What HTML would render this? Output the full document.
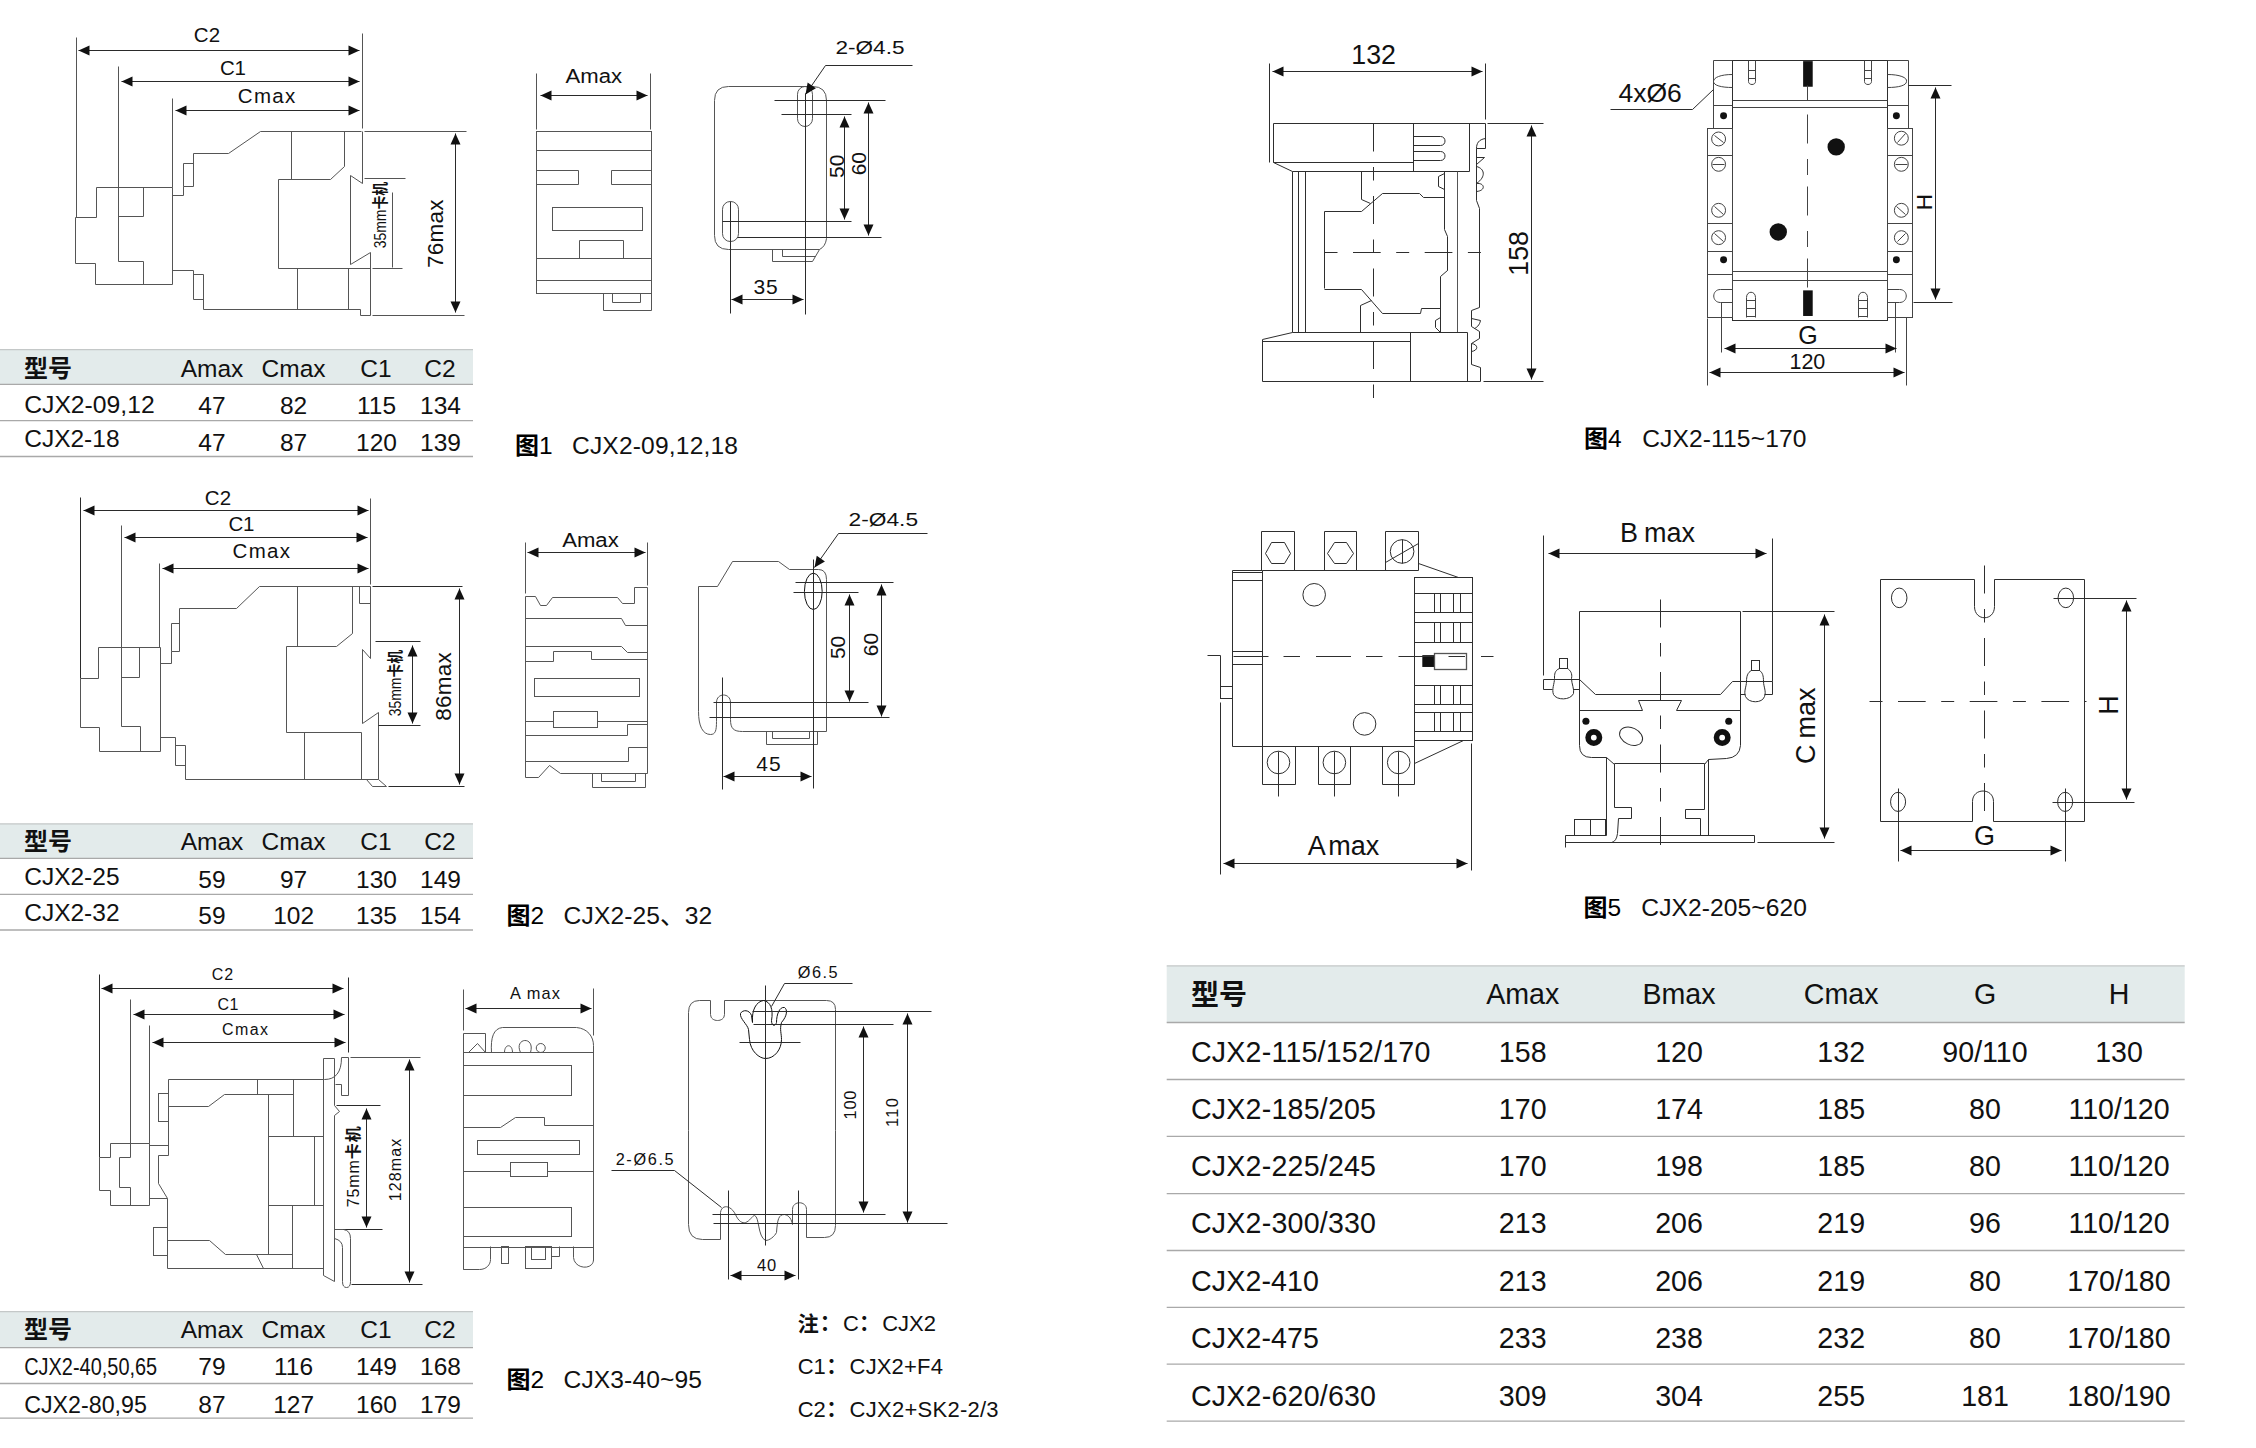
<!DOCTYPE html>
<html><head><meta charset="utf-8"><title>CJX2</title>
<style>
html,body{margin:0;padding:0;background:#fff;}
body{width:2256px;height:1448px;overflow:hidden;position:relative;font-family:"Liberation Sans","Noto Sans CJK SC",sans-serif;}
svg{position:absolute;left:0;top:0;display:block;}
svg text{font-family:"Liberation Sans","Noto Sans CJK SC",sans-serif;}
</style></head><body>
<svg width="2256" height="1448" viewBox="0 0 2256 1448">
<path d="M76.5 37.5 L76.5 217.5" stroke="#555" stroke-width="1.0" fill="none"/>
<path d="M362.5 33.5 L362.5 128.5" stroke="#555" stroke-width="1.0" fill="none"/>
<path d="M118.5 66.5 L118.5 261.5" stroke="#555" stroke-width="1.0" fill="none"/>
<path d="M172.5 98.5 L172.5 187.5" stroke="#555" stroke-width="1.0" fill="none"/>
<path d="M78.5 50.5 L359.5 50.5" stroke="#2a2a2a" stroke-width="1.0" fill="none"/>
<path d="M78.5 50.5 L89.5 55.5 L89.5 45.5 Z" fill="#111"/>
<path d="M359.5 50.5 L348.5 55.5 L348.5 45.5 Z" fill="#111"/>
<path d="M121.5 81.5 L359.5 81.5" stroke="#2a2a2a" stroke-width="1.0" fill="none"/>
<path d="M121.5 81.5 L132.5 86.5 L132.5 76.5 Z" fill="#111"/>
<path d="M359.5 81.5 L348.5 86.5 L348.5 76.5 Z" fill="#111"/>
<path d="M175.5 110.5 L359.5 110.5" stroke="#2a2a2a" stroke-width="1.0" fill="none"/>
<path d="M175.5 110.5 L186.5 115.5 L186.5 105.5 Z" fill="#111"/>
<path d="M359.5 110.5 L348.5 115.5 L348.5 105.5 Z" fill="#111"/>
<text x="207.0" y="41.5" font-size="20.5" text-anchor="middle" font-weight="normal" fill="#111" textLength="26.5" lengthAdjust="spacing">C2</text>
<text x="233.0" y="75.25" font-size="20.5" text-anchor="middle" font-weight="normal" fill="#111" textLength="26" lengthAdjust="spacing">C1</text>
<text x="266.5" y="102.75" font-size="20.5" text-anchor="middle" font-weight="normal" fill="#111" textLength="57.5" lengthAdjust="spacing">Cmax</text>
<path d="M466.5 131.5 L364.5 131.5" stroke="#555" stroke-width="1.0" fill="none"/>
<path d="M361.5 131.5 L260.5 131.5 L228.5 153.5 L193.5 153.5 L193.5 186.5 L183.5 186.5 L183.5 195.5 L172.5 195.5" stroke="#555" stroke-width="1.0" fill="none"/>
<path d="M193.5 163.5 L183.5 163.5 L183.5 186.5" stroke="#555" stroke-width="1.0" fill="none"/>
<path d="M172.5 187.5 L172.5 284.5" stroke="#555" stroke-width="1.0" fill="none"/>
<path d="M172.5 187.5 L96.5 187.5 L96.5 217.5 L75.5 217.5 L75.5 263.5 L95.5 263.5 L95.5 284.5 L172.5 284.5" stroke="#555" stroke-width="1.0" fill="none"/>
<path d="M143.5 187.5 L143.5 216.5 L118.5 216.5" stroke="#555" stroke-width="1.0" fill="none"/>
<path d="M118.5 261.5 L143.5 261.5 L143.5 284.5" stroke="#555" stroke-width="1.0" fill="none"/>
<path d="M172.5 270.5 L193.5 270.5 L193.5 299.5 L203.5 299.5" stroke="#555" stroke-width="1.0" fill="none"/>
<path d="M193.5 274.5 L203.5 274.5 L203.5 309.5 L360.5 309.5 L360.5 315.5 L370.5 315.5 L370.5 252.5 L350.5 264.5 L350.5 175.5 L362.5 183.5 L362.5 131.5" stroke="#555" stroke-width="1.0" fill="none"/>
<path d="M372.5 315.5 L464.5 315.5" stroke="#555" stroke-width="1.0" fill="none"/>
<path d="M291.5 131.5 L291.5 179.5" stroke="#555" stroke-width="1.0" fill="none"/>
<path d="M344.5 131.5 L344.5 166.5 L330.5 179.5 L278.5 179.5 L278.5 268.5 L370.5 268.5" stroke="#555" stroke-width="1.0" fill="none"/>
<path d="M372.5 268.5 L402.5 268.5" stroke="#555" stroke-width="1.0" fill="none"/>
<path d="M297.5 268.5 L297.5 309.5" stroke="#555" stroke-width="1.0" fill="none"/>
<path d="M348.5 268.5 L348.5 309.5" stroke="#555" stroke-width="1.0" fill="none"/>
<path d="M364.5 178.5 L405.5 178.5" stroke="#555" stroke-width="1.0" fill="none"/>
<path d="M392.5 192.5 L392.5 267.5" stroke="#555" stroke-width="1.0" fill="none"/>
<text x="385.75" y="215.0" font-size="16" text-anchor="middle" font-weight="normal" fill="#111" textLength="66.5" lengthAdjust="spacingAndGlyphs" transform="rotate(-90 385.75 215.0)">35mm<tspan font-weight="bold">卡机</tspan></text>
<text x="443.0" y="233.75" font-size="22.5" text-anchor="middle" font-weight="normal" fill="#111" textLength="68.5" lengthAdjust="spacing" transform="rotate(-90 443.0 233.75)">76max</text>
<path d="M455.5 133.5 L455.5 312.5" stroke="#2a2a2a" stroke-width="1.0" fill="none"/>
<path d="M455.5 133.5 L450.5 144.5 L460.5 144.5 Z" fill="#111"/>
<path d="M455.5 312.5 L450.5 301.5 L460.5 301.5 Z" fill="#111"/>
<path d="M536.5 73.5 L536.5 129.5" stroke="#555" stroke-width="1.0" fill="none"/>
<path d="M650.5 73.5 L650.5 129.5" stroke="#555" stroke-width="1.0" fill="none"/>
<path d="M540.5 95.5 L647.5 95.5" stroke="#2a2a2a" stroke-width="1.0" fill="none"/>
<path d="M540.5 95.5 L551.5 100.5 L551.5 90.5 Z" fill="#111"/>
<path d="M647.5 95.5 L636.5 100.5 L636.5 90.5 Z" fill="#111"/>
<text x="593.79" y="82.75" font-size="20" text-anchor="middle" font-weight="normal" fill="#111" textLength="56.5" lengthAdjust="spacingAndGlyphs">Amax</text>
<rect x="536.5" y="131.5" width="115.0" height="162.0" stroke="#555" stroke-width="1.0" fill="none"/>
<path d="M536.5 150.5 L651.5 150.5" stroke="#555" stroke-width="1.0" fill="none"/>
<path d="M536.5 258.5 L651.5 258.5" stroke="#555" stroke-width="1.0" fill="none"/>
<path d="M536.5 280.5 L651.5 280.5" stroke="#555" stroke-width="1.0" fill="none"/>
<path d="M536.5 170.5 L578.5 170.5 L578.5 184.5 L536.5 184.5" stroke="#555" stroke-width="1.0" fill="none"/>
<path d="M651.5 170.5 L611.5 170.5 L611.5 184.5 L651.5 184.5" stroke="#555" stroke-width="1.0" fill="none"/>
<rect x="552.5" y="207.5" width="90.0" height="23.0" stroke="#555" stroke-width="1.0" fill="none"/>
<path d="M579.5 258.5 L579.5 240.5 L623.5 240.5 L623.5 258.5" stroke="#555" stroke-width="1.0" fill="none"/>
<path d="M603.5 293.5 L603.5 310.5 L651.5 310.5 L651.5 293.5" stroke="#555" stroke-width="1.0" fill="none"/>
<path d="M612.5 293.5 L612.5 302.5 L640.5 302.5 L640.5 293.5" stroke="#555" stroke-width="1.0" fill="none"/>
<path d="M 728.5 86.5 L 812.5 86.5 Q 826.5 86.5 826.5 100.5 L 826.5 238.5 Q 825.5 246.5 819.5 249.5 L 728.5 249.5 Q 714.5 249.5 714.5 235.5 L 714.5 100.5 Q 714.5 86.5 728.5 86.5 Z" stroke="#555" stroke-width="1.0" fill="none"/>
<path d="M819.5 249.5 L812.5 261.5 L772.5 261.5 L772.5 249.5" stroke="#555" stroke-width="1.0" fill="none"/>
<path d="M782.5 249.5 L782.5 256.5 L815.5 256.5" stroke="#555" stroke-width="1.0" fill="none"/>
<rect x="797.5" y="86.5" width="15.0" height="40.0" rx="7.76" stroke="#555" stroke-width="1.0" fill="none"/>
<rect x="722.5" y="201.5" width="16.0" height="40.0" rx="7.76" stroke="#555" stroke-width="1.0" fill="none"/>
<path d="M805.5 93.5 L805.5 314.5" stroke="#2b2b2b" stroke-width="1.0" fill="none"/>
<path d="M730.5 201.5 L730.5 313.5" stroke="#2b2b2b" stroke-width="1.0" fill="none"/>
<path d="M774.5 100.5 L885.5 100.5" stroke="#2b2b2b" stroke-width="1.0" fill="none"/>
<path d="M781.5 114.5 L851.5 114.5" stroke="#2b2b2b" stroke-width="1.0" fill="none"/>
<path d="M722.5 221.5 L851.5 221.5" stroke="#2b2b2b" stroke-width="1.0" fill="none"/>
<path d="M737.5 237.5 L881.5 237.5" stroke="#2b2b2b" stroke-width="1.0" fill="none"/>
<path d="M844.5 116.5 L844.5 219.5" stroke="#2a2a2a" stroke-width="1.0" fill="none"/>
<path d="M844.5 116.5 L839.5 127.5 L849.5 127.5 Z" fill="#111"/>
<path d="M844.5 219.5 L839.5 208.5 L849.5 208.5 Z" fill="#111"/>
<path d="M868.5 102.5 L868.5 235.5" stroke="#2a2a2a" stroke-width="1.0" fill="none"/>
<path d="M868.5 102.5 L863.5 113.5 L873.5 113.5 Z" fill="#111"/>
<path d="M868.5 235.5 L863.5 224.5 L873.5 224.5 Z" fill="#111"/>
<text x="844.12" y="166.34" font-size="21" text-anchor="middle" font-weight="normal" fill="#111" transform="rotate(-90 844.12 166.34)">50</text>
<text x="865.85" y="163.68" font-size="21" text-anchor="middle" font-weight="normal" fill="#111" transform="rotate(-90 865.85 163.68)">60</text>
<path d="M731.5 299.5 L803.5 299.5" stroke="#2a2a2a" stroke-width="1.0" fill="none"/>
<path d="M731.5 299.5 L742.5 304.5 L742.5 294.5 Z" fill="#111"/>
<path d="M803.5 299.5 L792.5 304.5 L792.5 294.5 Z" fill="#111"/>
<text x="766.08" y="293.84" font-size="21" text-anchor="middle" font-weight="normal" fill="#111" letter-spacing="1">35</text>
<path d="M912.5 65.5 L825.5 65.5" stroke="#2b2b2b" stroke-width="1.0" fill="none"/>
<path d="M825.5 65.5 L805.5 94.5" stroke="#2a2a2a" stroke-width="1.0" fill="none"/>
<path d="M805.5 94.5 L807.63 82.61 L815.86 88.28 Z" fill="#111"/>
<text x="835.48" y="53.7" font-size="19" text-anchor="start" font-weight="normal" fill="#111" textLength="69" lengthAdjust="spacingAndGlyphs">2-Ø4.5</text>
<rect x="0" y="349.7" width="473" height="34.60000000000002" fill="#e3ebeb"/>
<path d="M0 349.7 H473" stroke="#c4c8c8" stroke-width="1.2"/>
<path d="M0 384.3 H473" stroke="#a9a9a9" stroke-width="1.3"/>
<path d="M0 420.6 H473" stroke="#a9a9a9" stroke-width="1.3"/>
<path d="M0 456.5 H473" stroke="#a9a9a9" stroke-width="1.3"/>
<text x="24.0" y="376.6" font-size="24" text-anchor="start" font-weight="bold" fill="#111">型号</text>
<text x="212.0" y="376.6" font-size="24.5" text-anchor="middle" font-weight="normal" fill="#111">Amax</text>
<text x="293.6" y="376.6" font-size="24.5" text-anchor="middle" font-weight="normal" fill="#111">Cmax</text>
<text x="376.0" y="376.6" font-size="24.5" text-anchor="middle" font-weight="normal" fill="#111">C1</text>
<text x="440.0" y="376.6" font-size="24.5" text-anchor="middle" font-weight="normal" fill="#111">C2</text>
<text x="24.2" y="412.6" font-size="24.5" text-anchor="start" font-weight="normal" fill="#111" textLength="130.5" lengthAdjust="spacingAndGlyphs">CJX2-09,12</text>
<text x="212.0" y="413.6" font-size="24.5" text-anchor="middle" font-weight="normal" fill="#111">47</text>
<text x="293.6" y="413.6" font-size="24.5" text-anchor="middle" font-weight="normal" fill="#111">82</text>
<text x="376.5" y="413.6" font-size="24.5" text-anchor="middle" font-weight="normal" fill="#111">115</text>
<text x="440.5" y="413.6" font-size="24.5" text-anchor="middle" font-weight="normal" fill="#111">134</text>
<text x="24.2" y="446.5" font-size="24.5" text-anchor="start" font-weight="normal" fill="#111">CJX2-18</text>
<text x="212.0" y="450.6" font-size="24.5" text-anchor="middle" font-weight="normal" fill="#111">47</text>
<text x="293.6" y="450.6" font-size="24.5" text-anchor="middle" font-weight="normal" fill="#111">87</text>
<text x="376.5" y="450.6" font-size="24.5" text-anchor="middle" font-weight="normal" fill="#111">120</text>
<text x="440.5" y="450.6" font-size="24.5" text-anchor="middle" font-weight="normal" fill="#111">139</text>
<rect x="0" y="823.8" width="473" height="34.60000000000002" fill="#e3ebeb"/>
<path d="M0 823.8 H473" stroke="#c4c8c8" stroke-width="1.2"/>
<path d="M0 858.4 H473" stroke="#a9a9a9" stroke-width="1.3"/>
<path d="M0 894.4 H473" stroke="#a9a9a9" stroke-width="1.3"/>
<path d="M0 930 H473" stroke="#a9a9a9" stroke-width="1.3"/>
<text x="24.0" y="850.0" font-size="24" text-anchor="start" font-weight="bold" fill="#111">型号</text>
<text x="212.0" y="850.0" font-size="24.5" text-anchor="middle" font-weight="normal" fill="#111">Amax</text>
<text x="293.6" y="850.0" font-size="24.5" text-anchor="middle" font-weight="normal" fill="#111">Cmax</text>
<text x="376.0" y="850.0" font-size="24.5" text-anchor="middle" font-weight="normal" fill="#111">C1</text>
<text x="440.0" y="850.0" font-size="24.5" text-anchor="middle" font-weight="normal" fill="#111">C2</text>
<text x="24.2" y="885.4" font-size="24.5" text-anchor="start" font-weight="normal" fill="#111">CJX2-25</text>
<text x="212.0" y="887.8" font-size="24.5" text-anchor="middle" font-weight="normal" fill="#111">59</text>
<text x="293.6" y="887.8" font-size="24.5" text-anchor="middle" font-weight="normal" fill="#111">97</text>
<text x="376.5" y="887.8" font-size="24.5" text-anchor="middle" font-weight="normal" fill="#111">130</text>
<text x="440.5" y="887.8" font-size="24.5" text-anchor="middle" font-weight="normal" fill="#111">149</text>
<text x="24.2" y="921.3" font-size="24.5" text-anchor="start" font-weight="normal" fill="#111">CJX2-32</text>
<text x="212.0" y="924.1" font-size="24.5" text-anchor="middle" font-weight="normal" fill="#111">59</text>
<text x="293.6" y="924.1" font-size="24.5" text-anchor="middle" font-weight="normal" fill="#111">102</text>
<text x="376.5" y="924.1" font-size="24.5" text-anchor="middle" font-weight="normal" fill="#111">135</text>
<text x="440.5" y="924.1" font-size="24.5" text-anchor="middle" font-weight="normal" fill="#111">154</text>
<rect x="0" y="1311.6" width="473" height="36.0" fill="#e3ebeb"/>
<path d="M0 1311.6 H473" stroke="#c4c8c8" stroke-width="1.2"/>
<path d="M0 1347.6 H473" stroke="#a9a9a9" stroke-width="1.3"/>
<path d="M0 1383.5 H473" stroke="#a9a9a9" stroke-width="1.3"/>
<path d="M0 1418.1 H473" stroke="#a9a9a9" stroke-width="1.3"/>
<text x="24.0" y="1338.4" font-size="24" text-anchor="start" font-weight="bold" fill="#111">型号</text>
<text x="212.0" y="1338.4" font-size="24.5" text-anchor="middle" font-weight="normal" fill="#111">Amax</text>
<text x="293.6" y="1338.4" font-size="24.5" text-anchor="middle" font-weight="normal" fill="#111">Cmax</text>
<text x="376.0" y="1338.4" font-size="24.5" text-anchor="middle" font-weight="normal" fill="#111">C1</text>
<text x="440.0" y="1338.4" font-size="24.5" text-anchor="middle" font-weight="normal" fill="#111">C2</text>
<text x="24.2" y="1375.2" font-size="24.5" text-anchor="start" font-weight="normal" fill="#111" textLength="133" lengthAdjust="spacingAndGlyphs">CJX2-40,50,65</text>
<text x="212.0" y="1375.2" font-size="24.5" text-anchor="middle" font-weight="normal" fill="#111">79</text>
<text x="293.6" y="1375.2" font-size="24.5" text-anchor="middle" font-weight="normal" fill="#111">116</text>
<text x="376.5" y="1375.2" font-size="24.5" text-anchor="middle" font-weight="normal" fill="#111">149</text>
<text x="440.5" y="1375.2" font-size="24.5" text-anchor="middle" font-weight="normal" fill="#111">168</text>
<text x="24.2" y="1412.6" font-size="24.5" text-anchor="start" font-weight="normal" fill="#111" textLength="122.7" lengthAdjust="spacingAndGlyphs">CJX2-80,95</text>
<text x="212.0" y="1413.3" font-size="24.5" text-anchor="middle" font-weight="normal" fill="#111">87</text>
<text x="293.6" y="1413.3" font-size="24.5" text-anchor="middle" font-weight="normal" fill="#111">127</text>
<text x="376.5" y="1413.3" font-size="24.5" text-anchor="middle" font-weight="normal" fill="#111">160</text>
<text x="440.5" y="1413.3" font-size="24.5" text-anchor="middle" font-weight="normal" fill="#111">179</text>
<text x="515" y="454" font-size="24.5"><tspan font-weight="bold" font-size="24">图</tspan>1</text>
<text x="572.0" y="454.0" font-size="24.6" text-anchor="start" font-weight="normal" fill="#111" textLength="166" lengthAdjust="spacing">CJX2-09,12,18</text>
<text x="506.6" y="924" font-size="24.5"><tspan font-weight="bold" font-size="24">图</tspan>2</text>
<text x="563.6" y="924.0" font-size="24.6" text-anchor="start" font-weight="normal" fill="#111" textLength="148.7" lengthAdjust="spacing">CJX2-25、32</text>
<text x="506.6" y="1388.4" font-size="24.5"><tspan font-weight="bold" font-size="24">图</tspan>2</text>
<text x="563.6" y="1388.4" font-size="24.6" text-anchor="start" font-weight="normal" fill="#111" textLength="138.3" lengthAdjust="spacing">CJX3-40~95</text>
<path d="M80.5 497.5 L80.5 678.5" stroke="#2b2b2b" stroke-width="1.0" fill="none"/>
<path d="M121.5 525.5 L121.5 726.5" stroke="#555" stroke-width="1.0" fill="none"/>
<path d="M159.5 563.5 L159.5 647.5" stroke="#555" stroke-width="1.0" fill="none"/>
<path d="M370.5 498.5 L370.5 584.5" stroke="#555" stroke-width="1.0" fill="none"/>
<path d="M83.5 510.5 L368.5 510.5" stroke="#2a2a2a" stroke-width="1.0" fill="none"/>
<path d="M83.5 510.5 L94.5 515.5 L94.5 505.5 Z" fill="#111"/>
<path d="M368.5 510.5 L357.5 515.5 L357.5 505.5 Z" fill="#111"/>
<path d="M124.5 537.5 L367.5 537.5" stroke="#2a2a2a" stroke-width="1.0" fill="none"/>
<path d="M124.5 537.5 L135.5 542.5 L135.5 532.5 Z" fill="#111"/>
<path d="M367.5 537.5 L356.5 542.5 L356.5 532.5 Z" fill="#111"/>
<path d="M162.5 568.5 L368.5 568.5" stroke="#2a2a2a" stroke-width="1.0" fill="none"/>
<path d="M162.5 568.5 L173.5 573.5 L173.5 563.5 Z" fill="#111"/>
<path d="M368.5 568.5 L357.5 573.5 L357.5 563.5 Z" fill="#111"/>
<text x="218.0" y="504.75" font-size="20.5" text-anchor="middle" font-weight="normal" fill="#111" textLength="26.5" lengthAdjust="spacing">C2</text>
<text x="241.5" y="531.0" font-size="20.5" text-anchor="middle" font-weight="normal" fill="#111" textLength="26" lengthAdjust="spacing">C1</text>
<text x="261.25" y="558.25" font-size="20.5" text-anchor="middle" font-weight="normal" fill="#111" textLength="57.5" lengthAdjust="spacing">Cmax</text>
<path d="M462.5 586.5 L372.5 586.5" stroke="#2b2b2b" stroke-width="1.0" fill="none"/>
<path d="M370.5 586.5 L259.5 586.5 L236.5 608.5 L179.5 608.5 L179.5 651.5 L171.5 651.5 L171.5 663.5 L160.5 663.5" stroke="#555" stroke-width="1.0" fill="none"/>
<path d="M179.5 623.5 L171.5 623.5 L171.5 651.5" stroke="#555" stroke-width="1.0" fill="none"/>
<path d="M160.5 647.5 L160.5 751.5" stroke="#555" stroke-width="1.0" fill="none"/>
<path d="M160.5 647.5 L98.5 647.5 L98.5 678.5 L80.5 678.5 L80.5 727.5 L99.5 727.5 L99.5 751.5 L160.5 751.5" stroke="#555" stroke-width="1.0" fill="none"/>
<path d="M139.5 647.5 L139.5 677.5 L121.5 677.5" stroke="#555" stroke-width="1.0" fill="none"/>
<path d="M121.5 726.5 L140.5 726.5 L140.5 751.5" stroke="#555" stroke-width="1.0" fill="none"/>
<path d="M160.5 737.5 L175.5 737.5 L175.5 765.5 L185.5 765.5" stroke="#555" stroke-width="1.0" fill="none"/>
<path d="M175.5 745.5 L185.5 745.5 L185.5 779.5 L378.5 779.5 L378.5 712.5 L362.5 723.5 L362.5 649.5 L370.5 658.5 L370.5 586.5" stroke="#555" stroke-width="1.0" fill="none"/>
<path d="M366.5 779.5 L372.5 786.5 L386.5 786.5 L378.5 779.5" stroke="#555" stroke-width="1.0" fill="none"/>
<path d="M388.5 786.5 L464.5 786.5" stroke="#2b2b2b" stroke-width="1.0" fill="none"/>
<path d="M297.5 586.5 L297.5 646.5" stroke="#555" stroke-width="1.0" fill="none"/>
<path d="M352.5 586.5 L352.5 633.5 L336.5 646.5 L286.5 646.5 L286.5 732.5 L361.5 732.5 L361.5 779.5" stroke="#555" stroke-width="1.0" fill="none"/>
<path d="M304.5 732.5 L304.5 779.5" stroke="#555" stroke-width="1.0" fill="none"/>
<path d="M359.5 586.5 L359.5 603.5 L370.5 603.5" stroke="#555" stroke-width="1.0" fill="none"/>
<path d="M378.5 725.5 L420.5 725.5" stroke="#2b2b2b" stroke-width="1.0" fill="none"/>
<path d="M375.5 641.5 L420.5 641.5" stroke="#2b2b2b" stroke-width="1.0" fill="none"/>
<path d="M412.5 645.5 L412.5 723.5" stroke="#2a2a2a" stroke-width="1.0" fill="none"/>
<path d="M412.5 645.5 L407.5 656.5 L417.5 656.5 Z" fill="#111"/>
<path d="M412.5 723.5 L407.5 712.5 L417.5 712.5 Z" fill="#111"/>
<text x="401.25" y="683.0" font-size="16" text-anchor="middle" font-weight="normal" fill="#111" textLength="66.5" lengthAdjust="spacingAndGlyphs" transform="rotate(-90 401.25 683.0)">35mm<tspan font-weight="bold">卡机</tspan></text>
<text x="451.25" y="686.5" font-size="22.5" text-anchor="middle" font-weight="normal" fill="#111" textLength="68.5" lengthAdjust="spacing" transform="rotate(-90 451.25 686.5)">86max</text>
<path d="M459.5 588.5 L459.5 784.5" stroke="#2a2a2a" stroke-width="1.0" fill="none"/>
<path d="M459.5 588.5 L454.5 599.5 L464.5 599.5 Z" fill="#111"/>
<path d="M459.5 784.5 L454.5 773.5 L464.5 773.5 Z" fill="#111"/>
<path d="M525.5 542.5 L525.5 593.5" stroke="#555" stroke-width="1.0" fill="none"/>
<path d="M647.5 542.5 L647.5 585.5" stroke="#555" stroke-width="1.0" fill="none"/>
<path d="M527.5 552.5 L645.5 552.5" stroke="#2a2a2a" stroke-width="1.0" fill="none"/>
<path d="M527.5 552.5 L538.5 557.5 L538.5 547.5 Z" fill="#111"/>
<path d="M645.5 552.5 L634.5 557.5 L634.5 547.5 Z" fill="#111"/>
<text x="590.47" y="546.76" font-size="20" text-anchor="middle" font-weight="normal" fill="#111" textLength="56.5" lengthAdjust="spacingAndGlyphs">Amax</text>
<path d="M525.5 596.5 L525.5 777.5" stroke="#555" stroke-width="1.0" fill="none"/>
<path d="M647.5 587.5 L647.5 773.5" stroke="#555" stroke-width="1.0" fill="none"/>
<path d="M525.5 596.5 L535.5 596.5 L540.5 605.5 L546.5 605.5 L552.5 597.5 L617.5 597.5 L622.5 603.5 L634.5 603.5 L634.5 587.5 L647.5 587.5" stroke="#555" stroke-width="1.0" fill="none"/>
<path d="M525.5 618.5 L621.5 618.5 L625.5 625.5 L647.5 625.5" stroke="#555" stroke-width="1.0" fill="none"/>
<path d="M525.5 646.5 L621.5 646.5 L627.5 652.5 L647.5 652.5" stroke="#555" stroke-width="1.0" fill="none"/>
<path d="M525.5 661.5 L553.5 661.5 L553.5 651.5 L591.5 651.5 L591.5 659.5 L647.5 659.5" stroke="#555" stroke-width="1.0" fill="none"/>
<rect x="534.5" y="678.5" width="105.0" height="18.0" stroke="#555" stroke-width="1.0" fill="none"/>
<rect x="553.5" y="711.5" width="44.0" height="16.0" stroke="#555" stroke-width="1.0" fill="none"/>
<path d="M525.5 721.5 L553.5 721.5" stroke="#555" stroke-width="1.0" fill="none"/>
<path d="M597.5 721.5 L647.5 721.5" stroke="#555" stroke-width="1.0" fill="none"/>
<path d="M525.5 735.5 L627.5 735.5 L627.5 724.5 L647.5 724.5" stroke="#555" stroke-width="1.0" fill="none"/>
<path d="M525.5 761.5 L628.5 761.5 L628.5 747.5 L647.5 747.5" stroke="#555" stroke-width="1.0" fill="none"/>
<path d="M525.5 777.5 L538.5 777.5 L549.5 765.5 L560.5 773.5 L647.5 773.5" stroke="#555" stroke-width="1.0" fill="none"/>
<path d="M592.5 773.5 L592.5 787.5 L645.5 787.5 L645.5 773.5" stroke="#555" stroke-width="1.0" fill="none"/>
<path d="M601.5 773.5 L601.5 781.5 L635.5 781.5 L635.5 773.5" stroke="#555" stroke-width="1.0" fill="none"/>
<path d="M 698.5 711.5 L 698.5 586.5 L 717.5 586.5 L 732.5 561.5 L 778.5 561.5 L 789.5 569.5 L 818.5 569.5 Q 826.5 569.5 826.5 579.5 L 826.5 731.5 L 742.5 731.5 C 733.5 731.5 730.5 728.5 730.5 719.5 L 730.5 702.5 C 730.5 692.5 716.5 692.5 716.5 702.5 L 716.5 721.5 C 716.5 730.5 715.5 734.5 710.5 734.5 C 702.5 734.5 698.5 725.5 698.5 711.5" stroke="#555" stroke-width="1.0" fill="none"/>
<path d="M766.5 731.5 L766.5 744.5 L817.5 744.5 L817.5 731.5" stroke="#555" stroke-width="1.0" fill="none"/>
<path d="M772.5 731.5 L772.5 738.5 L809.5 738.5 L809.5 731.5" stroke="#555" stroke-width="1.0" fill="none"/>
<ellipse cx="813.3" cy="591.33" rx="8.87" ry="18.18" stroke="#111" stroke-width="1.0" fill="none"/>
<path d="M813.5 559.5 L813.5 788.5" stroke="#2b2b2b" stroke-width="1.0" fill="none"/>
<path d="M722.5 677.5 L722.5 789.5" stroke="#2b2b2b" stroke-width="1.0" fill="none"/>
<path d="M795.5 582.5 L893.5 582.5" stroke="#2b2b2b" stroke-width="1.0" fill="none"/>
<path d="M793.5 592.5 L858.5 592.5" stroke="#2b2b2b" stroke-width="1.0" fill="none"/>
<path d="M713.5 702.5 L868.5 702.5" stroke="#2b2b2b" stroke-width="1.0" fill="none"/>
<path d="M709.5 717.5 L889.5 717.5" stroke="#2b2b2b" stroke-width="1.0" fill="none"/>
<path d="M849.5 594.5 L849.5 701.5" stroke="#2a2a2a" stroke-width="1.0" fill="none"/>
<path d="M849.5 594.5 L844.5 605.5 L854.5 605.5 Z" fill="#111"/>
<path d="M849.5 701.5 L844.5 690.5 L854.5 690.5 Z" fill="#111"/>
<path d="M881.5 584.5 L881.5 716.5" stroke="#2a2a2a" stroke-width="1.0" fill="none"/>
<path d="M881.5 584.5 L876.5 595.5 L886.5 595.5 Z" fill="#111"/>
<path d="M881.5 716.5 L876.5 705.5 L886.5 705.5 Z" fill="#111"/>
<text x="845.23" y="647.43" font-size="21" text-anchor="middle" font-weight="normal" fill="#111" transform="rotate(-90 845.23 647.43)">50</text>
<text x="878.05" y="644.55" font-size="21" text-anchor="middle" font-weight="normal" fill="#111" transform="rotate(-90 878.05 644.55)">60</text>
<path d="M723.5 776.5 L811.5 776.5" stroke="#2a2a2a" stroke-width="1.0" fill="none"/>
<path d="M723.5 776.5 L734.5 781.5 L734.5 771.5 Z" fill="#111"/>
<path d="M811.5 776.5 L800.5 781.5 L800.5 771.5 Z" fill="#111"/>
<text x="768.96" y="771.15" font-size="21" text-anchor="middle" font-weight="normal" fill="#111" letter-spacing="1">45</text>
<path d="M927.5 533.5 L838.5 533.5" stroke="#2b2b2b" stroke-width="1.0" fill="none"/>
<path d="M838.5 533.5 L814.5 567.5" stroke="#2a2a2a" stroke-width="1.0" fill="none"/>
<path d="M814.5 567.5 L816.76 555.63 L824.93 561.4 Z" fill="#111"/>
<text x="848.56" y="526.14" font-size="19" text-anchor="start" font-weight="normal" fill="#111" textLength="69.5" lengthAdjust="spacingAndGlyphs">2-Ø4.5</text>
<path d="M99.5 974.5 L99.5 1157.5" stroke="#2b2b2b" stroke-width="1.0" fill="none"/>
<path d="M130.5 999.5 L130.5 1157.5" stroke="#555" stroke-width="1.0" fill="none"/>
<path d="M149.5 1025.5 L149.5 1143.5" stroke="#555" stroke-width="1.0" fill="none"/>
<path d="M348.5 977.5 L348.5 1052.5" stroke="#2b2b2b" stroke-width="1.0" fill="none"/>
<path d="M101.5 988.5 L343.5 988.5" stroke="#2a2a2a" stroke-width="1.0" fill="none"/>
<path d="M101.5 988.5 L112.5 993.5 L112.5 983.5 Z" fill="#111"/>
<path d="M343.5 988.5 L332.5 993.5 L332.5 983.5 Z" fill="#111"/>
<path d="M133.5 1014.5 L344.5 1014.5" stroke="#2a2a2a" stroke-width="1.0" fill="none"/>
<path d="M133.5 1014.5 L144.5 1019.5 L144.5 1009.5 Z" fill="#111"/>
<path d="M344.5 1014.5 L333.5 1019.5 L333.5 1009.5 Z" fill="#111"/>
<path d="M152.5 1042.5 L345.5 1042.5" stroke="#2a2a2a" stroke-width="1.0" fill="none"/>
<path d="M152.5 1042.5 L163.5 1047.5 L163.5 1037.5 Z" fill="#111"/>
<path d="M345.5 1042.5 L334.5 1047.5 L334.5 1037.5 Z" fill="#111"/>
<text x="222.5" y="980.0" font-size="16" text-anchor="middle" font-weight="normal" fill="#111" textLength="21.5" lengthAdjust="spacing">C2</text>
<text x="228.0" y="1010.0" font-size="16" text-anchor="middle" font-weight="normal" fill="#111" textLength="21" lengthAdjust="spacing">C1</text>
<text x="245.0" y="1035.0" font-size="16" text-anchor="middle" font-weight="normal" fill="#111" textLength="46" lengthAdjust="spacing">Cmax</text>
<path d="M99.5 1157.5 L110.5 1157.5 L110.5 1143.5 L149.5 1143.5 L149.5 1205.5 L110.5 1205.5 L110.5 1190.5 L99.5 1190.5 L99.5 1157.5" stroke="#555" stroke-width="1.0" fill="none"/>
<path d="M130.5 1157.5 L119.5 1157.5 L119.5 1187.5 L130.5 1187.5 L130.5 1205.5" stroke="#555" stroke-width="1.0" fill="none"/>
<path d="M149.5 1145.5 L168.5 1145.5" stroke="#555" stroke-width="1.0" fill="none"/>
<path d="M149.5 1198.5 L167.5 1198.5" stroke="#555" stroke-width="1.0" fill="none"/>
<path d="M324.5 1079.5 L168.5 1079.5 L168.5 1155.5 L158.5 1155.5 L158.5 1183.5 L167.5 1198.5 L167.5 1268.5 L323.5 1268.5" stroke="#555" stroke-width="1.0" fill="none"/>
<rect x="158.5" y="1093.5" width="10.0" height="28.0" stroke="#555" stroke-width="1.0" fill="none"/>
<rect x="153.5" y="1227.5" width="14.0" height="28.0" stroke="#555" stroke-width="1.0" fill="none"/>
<path d="M168.5 1106.5 L208.5 1106.5 L224.5 1094.5 L293.5 1094.5" stroke="#555" stroke-width="1.0" fill="none"/>
<path d="M257.5 1079.5 L257.5 1094.5" stroke="#555" stroke-width="1.0" fill="none"/>
<path d="M293.5 1079.5 L293.5 1136.5" stroke="#555" stroke-width="1.0" fill="none"/>
<path d="M268.5 1094.5 L268.5 1254.5" stroke="#555" stroke-width="1.0" fill="none"/>
<path d="M268.5 1136.5 L323.5 1136.5" stroke="#555" stroke-width="1.0" fill="none"/>
<path d="M314.5 1136.5 L314.5 1205.5" stroke="#555" stroke-width="1.0" fill="none"/>
<path d="M268.5 1205.5 L323.5 1205.5" stroke="#555" stroke-width="1.0" fill="none"/>
<path d="M292.5 1205.5 L292.5 1268.5" stroke="#555" stroke-width="1.0" fill="none"/>
<path d="M167.5 1240.5 L209.5 1240.5 L225.5 1254.5 L292.5 1254.5" stroke="#555" stroke-width="1.0" fill="none"/>
<path d="M256.5 1254.5 L263.5 1268.5" stroke="#555" stroke-width="1.0" fill="none"/>
<path d="M334.5 1229.5 L334.5 1115.5 L339.5 1111.5 L334.5 1105.5 L334.5 1058.5 L323.5 1058.5 L323.5 1275.5 L334.5 1281.5 L334.5 1229.5" stroke="#555" stroke-width="1.0" fill="none"/>
<path d="M 324.5 1079.5 C 335.5 1079.5 341.5 1072.5 341.5 1057.5 L 348.5 1057.5 L 348.5 1095.5 L 341.5 1095.5 L 341.5 1084.5 L 335.5 1084.5" stroke="#555" stroke-width="1.0" fill="none"/>
<path d="M350.5 1057.5 L420.5 1057.5" stroke="#555" stroke-width="1.0" fill="none"/>
<path d="M336.5 1105.5 L380.5 1105.5" stroke="#2b2b2b" stroke-width="1.0" fill="none"/>
<path d="M334.5 1229.5 L382.5 1229.5" stroke="#2b2b2b" stroke-width="1.0" fill="none"/>
<path d="M 334.5 1229.5 L 343.5 1229.5 Q 350.5 1230.5 350.5 1238.5 L 350.5 1281.5 Q 350.5 1287.5 346.5 1287.5 Q 342.5 1287.5 342.5 1281.5 L 342.5 1247.5 Q 342.5 1240.5 334.5 1238.5" stroke="#555" stroke-width="1.0" fill="none"/>
<path d="M351.5 1284.5 L422.5 1284.5" stroke="#2b2b2b" stroke-width="1.0" fill="none"/>
<path d="M366.5 1108.5 L366.5 1227.5" stroke="#2a2a2a" stroke-width="1.0" fill="none"/>
<path d="M366.5 1108.5 L361.5 1119.5 L371.5 1119.5 Z" fill="#111"/>
<path d="M366.5 1227.5 L361.5 1216.5 L371.5 1216.5 Z" fill="#111"/>
<text x="358.75" y="1166.75" font-size="16" text-anchor="middle" font-weight="normal" fill="#111" textLength="81" lengthAdjust="spacing" transform="rotate(-90 358.75 1166.75)">75mm<tspan font-weight="bold">卡机</tspan></text>
<text x="401.25" y="1170.0" font-size="16" text-anchor="middle" font-weight="normal" fill="#111" textLength="62.5" lengthAdjust="spacing" transform="rotate(-90 401.25 1170.0)">128max</text>
<path d="M409.5 1059.5 L409.5 1282.5" stroke="#2a2a2a" stroke-width="1.0" fill="none"/>
<path d="M409.5 1059.5 L404.5 1070.5 L414.5 1070.5 Z" fill="#111"/>
<path d="M409.5 1282.5 L404.5 1271.5 L414.5 1271.5 Z" fill="#111"/>
<path d="M463.5 989.5 L463.5 1030.5" stroke="#555" stroke-width="1.0" fill="none"/>
<path d="M593.5 988.5 L593.5 1035.5" stroke="#555" stroke-width="1.0" fill="none"/>
<path d="M465.5 1008.5 L591.5 1008.5" stroke="#2a2a2a" stroke-width="1.0" fill="none"/>
<path d="M465.5 1008.5 L476.5 1013.5 L476.5 1003.5 Z" fill="#111"/>
<path d="M591.5 1008.5 L580.5 1013.5 L580.5 1003.5 Z" fill="#111"/>
<text x="535.0" y="998.75" font-size="16.4" text-anchor="middle" font-weight="normal" fill="#111" textLength="50" lengthAdjust="spacing">A max</text>
<path d="M463.5 1033.5 L463.5 1269.5" stroke="#555" stroke-width="1.0" fill="none"/>
<path d="M593.5 1045.5 L593.5 1260.5" stroke="#555" stroke-width="1.0" fill="none"/>
<path d="M463.5 1033.5 L485.5 1033.5 L485.5 1052.5" stroke="#555" stroke-width="1.0" fill="none"/>
<path d="M468.5 1052.5 L477.5 1043.5 L485.5 1052.5" stroke="#555" stroke-width="1.0" fill="none"/>
<path d="M 491.5 1052.5 C 490.5 1037.5 493.5 1028.5 502.5 1027.5 L 576.5 1027.5 C 587.5 1028.5 593.5 1036.5 593.5 1045.5" stroke="#555" stroke-width="1.0" fill="none"/>
<path d="M 504.5 1052.5 C 504.5 1043.5 512.5 1043.5 512.5 1052.5" stroke="#555" stroke-width="1.0" fill="none"/>
<path d="M 520.5 1052.5 C 513.5 1037.5 535.5 1035.5 530.5 1052.5" stroke="#555" stroke-width="1.0" fill="none"/>
<circle cx="540.75" cy="1048.0" r="4.5" stroke="#555" stroke-width="1.0" fill="none"/>
<path d="M463.5 1052.5 L593.5 1052.5" stroke="#555" stroke-width="1.0" fill="none"/>
<rect x="463.5" y="1065.5" width="108.0" height="30.0" stroke="#555" stroke-width="1.0" fill="none"/>
<path d="M463.5 1127.5 L500.5 1127.5 L515.5 1117.5 L544.5 1117.5 L544.5 1125.5 L593.5 1125.5" stroke="#555" stroke-width="1.0" fill="none"/>
<rect x="477.5" y="1140.5" width="102.0" height="14.0" stroke="#555" stroke-width="1.0" fill="none"/>
<rect x="510.5" y="1162.5" width="37.0" height="14.0" stroke="#555" stroke-width="1.0" fill="none"/>
<path d="M463.5 1171.5 L510.5 1171.5" stroke="#555" stroke-width="1.0" fill="none"/>
<path d="M547.5 1171.5 L593.5 1171.5" stroke="#555" stroke-width="1.0" fill="none"/>
<rect x="463.5" y="1207.5" width="108.0" height="29.0" stroke="#555" stroke-width="1.0" fill="none"/>
<path d="M463.5 1247.5 L593.5 1247.5" stroke="#555" stroke-width="1.0" fill="none"/>
<path d="M 463.5 1246.5 L 463.5 1269.5 L 479.5 1269.5 C 486.5 1269.5 490.5 1264.5 490.5 1259.5 L 490.5 1246.5" stroke="#555" stroke-width="1.0" fill="none"/>
<rect x="501.5" y="1246.5" width="7.0" height="17.0" stroke="#555" stroke-width="1.0" fill="none"/>
<rect x="525.5" y="1246.5" width="26.0" height="22.0" stroke="#555" stroke-width="1.0" fill="none"/>
<rect x="531.5" y="1246.5" width="14.0" height="13.0" stroke="#555" stroke-width="1.0" fill="none"/>
<path d="M551.5 1256.5 L559.5 1256.5 L559.5 1246.5" stroke="#555" stroke-width="1.0" fill="none"/>
<path d="M 573.5 1246.5 L 573.5 1257.5 C 574.5 1269.5 593.5 1270.5 593.5 1259.5 L 593.5 1246.5" stroke="#555" stroke-width="1.0" fill="none"/>
<path d="M 688.5 1130.5 L 688.5 1012.5 Q 688.5 1000.5 699.5 1000.5 L 710.5 1000.5 L 710.5 1014.5 C 710.5 1022.5 724.5 1022.5 724.5 1014.5 L 724.5 1000.5 L 826.5 1000.5 Q 835.5 1000.5 835.5 1009.5 L 835.5 1130.5" stroke="#555" stroke-width="1.0" fill="none"/>
<path d="M 751.5 1015.5 C 749.5 1009.5 742.5 1009.5 740.5 1013.5 C 739.5 1018.5 747.5 1024.5 748.5 1029.5 L 749.5 1039.5 C 750.5 1051.5 759.5 1058.5 765.5 1058.5 C 774.5 1058.5 781.5 1049.5 781.5 1039.5 C 781.5 1033.5 779.5 1029.5 781.5 1022.5 C 787.5 1015.5 787.5 1009.5 784.5 1007.5 C 779.5 1006.5 776.5 1014.5 776.5 1022.5 C 775.5 1026.5 771.5 1026.5 771.5 1020.5 C 773.5 1009.5 770.5 1001.5 763.5 1000.5 C 756.5 1001.5 751.5 1009.5 752.5 1022.5 Z" stroke="#111" stroke-width="1.0" fill="none"/>
<path d="M852.5 983.5 L784.5 983.5 L771.5 1006.5" stroke="#2b2b2b" stroke-width="1.0" fill="none"/>
<text x="797.66" y="977.62" font-size="16.3" text-anchor="start" font-weight="normal" fill="#111" textLength="40" lengthAdjust="spacing">Ø6.5</text>
<path d="M 688.5 1130.5 L 688.5 1224.5 Q 688.5 1239.5 702.5 1239.5 L 720.5 1239.5 L 720.5 1212.5 C 721.5 1204.5 730.5 1204.5 735.5 1214.5 C 738.5 1221.5 742.5 1223.5 745.5 1222.5 C 749.5 1221.5 752.5 1215.5 754.5 1215.5 C 759.5 1216.5 757.5 1236.5 765.5 1240.5 C 769.5 1240.5 774.5 1236.5 776.5 1232.5 C 777.5 1219.5 778.5 1214.5 784.5 1214.5 C 789.5 1215.5 791.5 1219.5 792.5 1224.5 L 792.5 1209.5 C 792.5 1200.5 806.5 1200.5 806.5 1209.5 L 806.5 1237.5 L 824.5 1237.5 Q 835.5 1237.5 835.5 1225.5 L 835.5 1130.5" stroke="#555" stroke-width="1.0" fill="none"/>
<path d="M728.5 1190.5 L728.5 1279.5" stroke="#2b2b2b" stroke-width="1.0" fill="none"/>
<path d="M798.5 1190.5 L798.5 1279.5" stroke="#2b2b2b" stroke-width="1.0" fill="none"/>
<path d="M611.5 1170.5 L674.5 1170.5 L721.5 1207.5" stroke="#2b2b2b" stroke-width="1.0" fill="none"/>
<text x="615.64" y="1164.79" font-size="16.3" text-anchor="start" font-weight="normal" fill="#111" textLength="58" lengthAdjust="spacing">2-Ø6.5</text>
<path d="M730.5 1275.5 L795.5 1275.5" stroke="#2a2a2a" stroke-width="1.0" fill="none"/>
<path d="M730.5 1275.5 L741.5 1280.5 L741.5 1270.5 Z" fill="#111"/>
<path d="M795.5 1275.5 L784.5 1280.5 L784.5 1270.5 Z" fill="#111"/>
<text x="767.07" y="1270.74" font-size="16.5" text-anchor="middle" font-weight="normal" fill="#111" letter-spacing="1">40</text>
<path d="M765.5 985.5 L765.5 1245.5" stroke="#2b2b2b" stroke-width="1.0" fill="none"/>
<path d="M752.5 1011.5 L931.5 1011.5" stroke="#2b2b2b" stroke-width="1.0" fill="none"/>
<path d="M753.5 1024.5 L893.5 1024.5" stroke="#2b2b2b" stroke-width="1.0" fill="none"/>
<path d="M739.5 1042.5 L800.5 1042.5" stroke="#2b2b2b" stroke-width="1.0" fill="none"/>
<path d="M712.5 1214.5 L885.5 1214.5" stroke="#2b2b2b" stroke-width="1.0" fill="none"/>
<path d="M713.5 1223.5 L947.5 1223.5" stroke="#2b2b2b" stroke-width="1.0" fill="none"/>
<path d="M863.5 1026.5 L863.5 1212.5" stroke="#2a2a2a" stroke-width="1.0" fill="none"/>
<path d="M863.5 1026.5 L858.5 1037.5 L868.5 1037.5 Z" fill="#111"/>
<path d="M863.5 1212.5 L858.5 1201.5 L868.5 1201.5 Z" fill="#111"/>
<path d="M907.5 1013.5 L907.5 1222.5" stroke="#2a2a2a" stroke-width="1.0" fill="none"/>
<path d="M907.5 1013.5 L902.5 1024.5 L912.5 1024.5 Z" fill="#111"/>
<path d="M907.5 1222.5 L902.5 1211.5 L912.5 1211.5 Z" fill="#111"/>
<text x="856.25" y="1105.0" font-size="16.5" text-anchor="middle" font-weight="normal" fill="#111" textLength="29" lengthAdjust="spacing" transform="rotate(-90 856.25 1105.0)">100</text>
<text x="898.0" y="1112.5" font-size="16.5" text-anchor="middle" font-weight="normal" fill="#111" textLength="29" lengthAdjust="spacing" transform="rotate(-90 898.0 1112.5)">110</text>
<text x="797.73" y="1331.02" font-size="21" text-anchor="start" font-weight="bold" fill="#111">注</text>
<text x="824.88" y="1331.02" font-size="21" text-anchor="middle" font-weight="bold" fill="#111" style='font-family:"Liberation Sans","Noto Sans CJK JP",sans-serif'>：</text>
<text x="842.94" y="1331.02" font-size="22" text-anchor="start" font-weight="normal" fill="#111">C</text>
<text x="864.22" y="1331.02" font-size="21" text-anchor="middle" font-weight="bold" fill="#111" style='font-family:"Liberation Sans","Noto Sans CJK JP",sans-serif'>：</text>
<text x="882.17" y="1331.02" font-size="22" text-anchor="start" font-weight="normal" fill="#111" textLength="53.9" lengthAdjust="spacing">CJX2</text>
<text x="797.73" y="1373.68" font-size="22" text-anchor="start" font-weight="normal" fill="#111">C1</text>
<text x="831.53" y="1373.68" font-size="21" text-anchor="middle" font-weight="bold" fill="#111" style='font-family:"Liberation Sans","Noto Sans CJK JP",sans-serif'>：</text>
<text x="849.59" y="1373.68" font-size="22" text-anchor="start" font-weight="normal" fill="#111" textLength="93.3" lengthAdjust="spacing">CJX2+F4</text>
<text x="797.73" y="1417.45" font-size="22" text-anchor="start" font-weight="normal" fill="#111">C2</text>
<text x="831.53" y="1417.45" font-size="21" text-anchor="middle" font-weight="bold" fill="#111" style='font-family:"Liberation Sans","Noto Sans CJK JP",sans-serif'>：</text>
<text x="849.59" y="1417.45" font-size="22" text-anchor="start" font-weight="normal" fill="#111" textLength="149" lengthAdjust="spacing">CJX2+SK2-2/3</text>
<path d="M1485.5 123.5 L1273.5 123.5 L1273.5 162.5 L1292.5 171.5 L1469.5 171.5 L1469.5 123.5" stroke="#2e2e2e" stroke-width="1.0" fill="none"/>
<path d="M1273.5 162.5 L1413.5 162.5" stroke="#2e2e2e" stroke-width="1.0" fill="none"/>
<path d="M1413.5 123.5 L1413.5 171.5" stroke="#2e2e2e" stroke-width="1.0" fill="none"/>
<path d="M 1413.5 136.5 L 1440.5 136.5 C 1446.5 136.5 1446.5 145.5 1440.5 145.5 L 1413.5 145.5" stroke="#2e2e2e" stroke-width="1.0" fill="none"/>
<path d="M 1413.5 151.5 L 1440.5 151.5 C 1446.5 151.5 1446.5 160.5 1440.5 160.5 L 1413.5 160.5" stroke="#2e2e2e" stroke-width="1.0" fill="none"/>
<path d="M1485.5 123.5 L1485.5 148.5 L1476.5 148.5" stroke="#2e2e2e" stroke-width="1.0" fill="none"/>
<path d="M 1485.5 138.5 C 1478.5 139.5 1476.5 143.5 1476.5 148.5 L 1476.5 200.5 L 1479.5 208.5 L 1479.5 265.5" stroke="#2e2e2e" stroke-width="1.0" fill="none"/>
<path d="M1476.5 157.5 L1484.5 157.5 L1476.5 164.5" stroke="#2e2e2e" stroke-width="1.0" fill="none"/>
<path d="M 1476.5 166.5 C 1484.5 168.5 1486.5 176.5 1476.5 183.5 C 1484.5 182.5 1486.5 190.5 1476.5 191.5" stroke="#2e2e2e" stroke-width="1.0" fill="none"/>
<path d="M1292.5 171.5 L1292.5 332.5" stroke="#2e2e2e" stroke-width="1.0" fill="none"/>
<path d="M1298.5 171.5 L1298.5 332.5" stroke="#2e2e2e" stroke-width="1.0" fill="none"/>
<path d="M1305.5 171.5 L1305.5 332.5" stroke="#2e2e2e" stroke-width="1.0" fill="none"/>
<path d="M1361.5 171.5 L1361.5 199.5 L1370.5 203.5" stroke="#2e2e2e" stroke-width="1.0" fill="none"/>
<path d="M1324.5 288.5 L1324.5 211.5 L1361.5 211.5 L1382.5 193.5 L1419.5 193.5 L1423.5 197.5 L1444.5 197.5" stroke="#2e2e2e" stroke-width="1.0" fill="none"/>
<path d="M1444.5 171.5 L1444.5 229.5 L1447.5 236.5 L1447.5 270.5" stroke="#2e2e2e" stroke-width="1.0" fill="none"/>
<path d="M1444.5 173.5 L1438.5 176.5 L1438.5 186.5 L1444.5 189.5" stroke="#2e2e2e" stroke-width="1.0" fill="none"/>
<path d="M1457.5 171.5 L1457.5 332.5" stroke="#555" stroke-width="1.0" fill="none"/>
<path d="M1324.5 289.5 L1361.5 289.5 L1382.5 313.5 L1420.5 313.5 L1421.5 308.5 L1440.5 308.5" stroke="#2e2e2e" stroke-width="1.0" fill="none"/>
<path d="M1371.5 300.5 L1360.5 305.5 L1360.5 332.5" stroke="#2e2e2e" stroke-width="1.0" fill="none"/>
<path d="M1447.5 269.5 L1447.5 270.5 L1440.5 276.5 L1440.5 332.5" stroke="#2e2e2e" stroke-width="1.0" fill="none"/>
<path d="M1440.5 317.5 L1435.5 320.5 L1435.5 327.5 L1440.5 332.5" stroke="#2e2e2e" stroke-width="1.0" fill="none"/>
<path d="M1479.5 264.5 L1479.5 307.5 L1471.5 310.5 L1471.5 326.5 L1479.5 331.5 L1479.5 338.5 L1471.5 343.5 L1471.5 364.5 L1480.5 367.5 L1480.5 381.5" stroke="#2e2e2e" stroke-width="1.0" fill="none"/>
<path d="M 1471.5 318.5 L 1480.5 320.5 C 1479.5 325.5 1476.5 327.5 1474.5 328.5" stroke="#2e2e2e" stroke-width="1.0" fill="none"/>
<path d="M 1471.5 343.5 C 1478.5 344.5 1478.5 350.5 1471.5 351.5" stroke="#2e2e2e" stroke-width="1.0" fill="none"/>
<path d="M1467.5 332.5 L1292.5 332.5 L1262.5 339.5 L1262.5 381.5 L1480.5 381.5" stroke="#2e2e2e" stroke-width="1.0" fill="none"/>
<path d="M1262.5 341.5 L1410.5 341.5" stroke="#2e2e2e" stroke-width="1.0" fill="none"/>
<path d="M1410.5 332.5 L1410.5 381.5" stroke="#2e2e2e" stroke-width="1.0" fill="none"/>
<path d="M1467.5 332.5 L1467.5 381.5" stroke="#2e2e2e" stroke-width="1.0" fill="none"/>
<path d="M1373.5 123.5 L1373.5 410.5" stroke="#2e2e2e" stroke-width="1.0" stroke-dasharray="28 15.5 13.5 15.5" fill="none"/>
<path d="M1324.5 252.5 L1485.5 252.5" stroke="#2e2e2e" stroke-width="1.0" stroke-dasharray="13 15.5 27.7 15.5" fill="none"/>
<path d="M1269.5 63.5 L1269.5 162.5" stroke="#2e2e2e" stroke-width="1.0" fill="none"/>
<path d="M1485.5 63.5 L1485.5 119.5" stroke="#2e2e2e" stroke-width="1.0" fill="none"/>
<path d="M1272.5 71.5 L1482.5 71.5" stroke="#2a2a2a" stroke-width="1.0" fill="none"/>
<path d="M1272.5 71.5 L1283.5 76.5 L1283.5 66.5 Z" fill="#111"/>
<path d="M1482.5 71.5 L1471.5 76.5 L1471.5 66.5 Z" fill="#111"/>
<text x="1373.62" y="64.05" font-size="27.5" text-anchor="middle" font-weight="normal" fill="#111" textLength="44.7" lengthAdjust="spacingAndGlyphs">132</text>
<path d="M1487.5 123.5 L1543.5 123.5" stroke="#2e2e2e" stroke-width="1.0" fill="none"/>
<path d="M1483.5 381.5 L1543.5 381.5" stroke="#2e2e2e" stroke-width="1.0" fill="none"/>
<path d="M1531.5 125.5 L1531.5 379.5" stroke="#2a2a2a" stroke-width="1.0" fill="none"/>
<path d="M1531.5 125.5 L1526.5 136.5 L1536.5 136.5 Z" fill="#111"/>
<path d="M1531.5 379.5 L1526.5 368.5 L1536.5 368.5 Z" fill="#111"/>
<text x="1527.8" y="253.33" font-size="27.5" text-anchor="middle" font-weight="normal" fill="#111" textLength="44.7" lengthAdjust="spacingAndGlyphs" transform="rotate(-90 1527.8 253.33)">158</text>
<rect x="1732.5" y="60.5" width="155.0" height="260.0" stroke="#2e2e2e" stroke-width="1.0" fill="none"/>
<path d="M1732.5 100.5 L1887.5 100.5" stroke="#444" stroke-width="1.0" fill="none"/>
<path d="M1732.5 107.5 L1887.5 107.5" stroke="#444" stroke-width="1.0" fill="none"/>
<path d="M1732.5 271.5 L1887.5 271.5" stroke="#444" stroke-width="1.0" fill="none"/>
<path d="M1732.5 280.5 L1887.5 280.5" stroke="#444" stroke-width="1.0" fill="none"/>
<path d="M1732.5 60.5 L1713.5 60.5 L1713.5 128.5" stroke="#444" stroke-width="1.0" fill="none"/>
<path d="M1713.5 105.5 L1732.5 105.5" stroke="#444" stroke-width="1.0" fill="none"/>
<path d="M1887.5 60.5 L1908.5 60.5 L1908.5 128.5" stroke="#444" stroke-width="1.0" fill="none"/>
<path d="M1887.5 105.5 L1908.5 105.5" stroke="#444" stroke-width="1.0" fill="none"/>
<path d="M 1732.5 74.5 C 1720.5 74.5 1713.5 77.5 1713.5 81.5 C 1713.5 85.5 1721.5 87.5 1732.5 87.5" stroke="#444" stroke-width="1.0" fill="none"/>
<path d="M 1887.5 74.5 C 1899.5 74.5 1907.5 77.5 1906.5 81.5 C 1906.5 85.5 1898.5 87.5 1887.5 87.5" stroke="#444" stroke-width="1.0" fill="none"/>
<path d="M 1732.5 289.5 L 1720.5 289.5 C 1711.5 289.5 1711.5 302.5 1720.5 302.5 L 1732.5 302.5" stroke="#444" stroke-width="1.0" fill="none"/>
<path d="M 1887.5 289.5 L 1899.5 289.5 C 1908.5 289.5 1908.5 302.5 1899.5 302.5 L 1887.5 302.5" stroke="#444" stroke-width="1.0" fill="none"/>
<circle cx="1723.57" cy="115.83" r="3.48" stroke="none" stroke-width="0" fill="#111"/>
<circle cx="1896.37" cy="115.83" r="3.48" stroke="none" stroke-width="0" fill="#111"/>
<circle cx="1723.57" cy="259.79" r="3.48" stroke="none" stroke-width="0" fill="#111"/>
<circle cx="1896.37" cy="259.79" r="3.48" stroke="none" stroke-width="0" fill="#111"/>
<rect x="1707.5" y="128.5" width="25.0" height="189.0" stroke="#444" stroke-width="1.0" fill="none"/>
<rect x="1887.5" y="128.5" width="25.0" height="189.0" stroke="#444" stroke-width="1.0" fill="none"/>
<path d="M1707.5 155.5 L1732.5 155.5" stroke="#444" stroke-width="1.0" fill="none"/>
<path d="M1887.5 155.5 L1912.5 155.5" stroke="#444" stroke-width="1.0" fill="none"/>
<path d="M1707.5 223.5 L1732.5 223.5" stroke="#444" stroke-width="1.0" fill="none"/>
<path d="M1887.5 223.5 L1912.5 223.5" stroke="#444" stroke-width="1.0" fill="none"/>
<path d="M1707.5 251.5 L1732.5 251.5" stroke="#444" stroke-width="1.0" fill="none"/>
<path d="M1887.5 251.5 L1912.5 251.5" stroke="#444" stroke-width="1.0" fill="none"/>
<path d="M1707.5 274.5 L1732.5 274.5" stroke="#444" stroke-width="1.0" fill="none"/>
<path d="M1887.5 274.5 L1912.5 274.5" stroke="#444" stroke-width="1.0" fill="none"/>
<circle cx="1718.6" cy="138.96" r="6.96" stroke="#444" stroke-width="1.0" fill="none"/>
<path d="M1714.5 135.5 L1723.5 142.5" stroke="#444" stroke-width="1.0" fill="none"/>
<circle cx="1718.6" cy="164.32" r="6.96" stroke="#444" stroke-width="1.0" fill="none"/>
<path d="M1712.5 164.5 L1724.5 164.5" stroke="#444" stroke-width="1.0" fill="none"/>
<circle cx="1718.6" cy="210.31" r="6.96" stroke="#444" stroke-width="1.0" fill="none"/>
<path d="M1714.5 206.5 L1723.5 214.5" stroke="#444" stroke-width="1.0" fill="none"/>
<circle cx="1718.6" cy="237.66" r="6.96" stroke="#444" stroke-width="1.0" fill="none"/>
<path d="M1714.5 233.5 L1723.5 241.5" stroke="#444" stroke-width="1.0" fill="none"/>
<circle cx="1901.34" cy="138.21" r="6.96" stroke="#444" stroke-width="1.0" fill="none"/>
<path d="M1897.5 142.5 L1905.5 133.5" stroke="#444" stroke-width="1.0" fill="none"/>
<circle cx="1901.34" cy="164.32" r="6.96" stroke="#444" stroke-width="1.0" fill="none"/>
<path d="M1895.5 164.5 L1907.5 164.5" stroke="#444" stroke-width="1.0" fill="none"/>
<circle cx="1901.34" cy="210.31" r="6.96" stroke="#444" stroke-width="1.0" fill="none"/>
<path d="M1896.5 206.5 L1905.5 214.5" stroke="#444" stroke-width="1.0" fill="none"/>
<circle cx="1901.34" cy="237.66" r="6.96" stroke="#444" stroke-width="1.0" fill="none"/>
<path d="M1897.5 241.5 L1905.5 233.5" stroke="#444" stroke-width="1.0" fill="none"/>
<circle cx="1836.2" cy="146.91" r="8.7" stroke="none" stroke-width="0" fill="#111"/>
<circle cx="1778.27" cy="231.94" r="8.7" stroke="none" stroke-width="0" fill="#111"/>
<rect x="1803.13" y="61.13" width="9.58" height="25.61" stroke="none" stroke-width="0" fill="#111"/>
<rect x="1803.13" y="290.37" width="9.58" height="25.61" stroke="none" stroke-width="0" fill="#111"/>
<path d="M1807.5 85.5 L1807.5 100.5" stroke="#444" stroke-width="1.0" fill="none"/>
<path d="M1807.5 114.5 L1807.5 290.5" stroke="#444" stroke-width="1.0" stroke-dasharray="29 15.5 16 11.5" fill="none"/>
<path d="M 1748.5 60.5 L 1748.5 81.5 C 1748.5 85.5 1755.5 85.5 1755.5 81.5 L 1755.5 60.5" stroke="#444" stroke-width="1.0" fill="none"/>
<path d="M1748.5 70.5 L1755.5 70.5" stroke="#444" stroke-width="1.0" fill="none"/>
<path d="M1748.5 78.5 L1755.5 78.5" stroke="#444" stroke-width="1.0" fill="none"/>
<path d="M 1864.5 60.5 L 1864.5 81.5 C 1864.5 85.5 1871.5 85.5 1871.5 81.5 L 1871.5 60.5" stroke="#444" stroke-width="1.0" fill="none"/>
<path d="M1864.5 70.5 L1871.5 70.5" stroke="#444" stroke-width="1.0" fill="none"/>
<path d="M1864.5 78.5 L1871.5 78.5" stroke="#444" stroke-width="1.0" fill="none"/>
<path d="M 1746.5 317.5 L 1746.5 297.5 C 1746.5 290.5 1755.5 290.5 1755.5 297.5 L 1755.5 317.5" stroke="#444" stroke-width="1.0" fill="none"/>
<path d="M1746.5 300.5 L1755.5 300.5" stroke="#444" stroke-width="1.0" fill="none"/>
<path d="M1746.5 308.5 L1755.5 308.5" stroke="#444" stroke-width="1.0" fill="none"/>
<path d="M1746.5 316.5 L1755.5 316.5" stroke="#444" stroke-width="1.0" fill="none"/>
<path d="M 1858.5 317.5 L 1858.5 297.5 C 1858.5 290.5 1867.5 290.5 1867.5 297.5 L 1867.5 317.5" stroke="#444" stroke-width="1.0" fill="none"/>
<path d="M1858.5 300.5 L1867.5 300.5" stroke="#444" stroke-width="1.0" fill="none"/>
<path d="M1858.5 308.5 L1867.5 308.5" stroke="#444" stroke-width="1.0" fill="none"/>
<path d="M1858.5 316.5 L1867.5 316.5" stroke="#444" stroke-width="1.0" fill="none"/>
<path d="M1721.5 302.5 L1721.5 352.5" stroke="#444" stroke-width="1.0" fill="none"/>
<path d="M1895.5 302.5 L1895.5 352.5" stroke="#444" stroke-width="1.0" fill="none"/>
<path d="M1707.5 318.5 L1707.5 385.5" stroke="#444" stroke-width="1.0" fill="none"/>
<path d="M1906.5 317.5 L1906.5 385.5" stroke="#444" stroke-width="1.0" fill="none"/>
<path d="M1724.5 348.5 L1896.5 348.5" stroke="#2a2a2a" stroke-width="1.0" fill="none"/>
<path d="M1724.5 348.5 L1735.5 353.5 L1735.5 343.5 Z" fill="#111"/>
<path d="M1896.5 348.5 L1885.5 353.5 L1885.5 343.5 Z" fill="#111"/>
<path d="M1709.5 372.5 L1904.5 372.5" stroke="#2a2a2a" stroke-width="1.0" fill="none"/>
<path d="M1709.5 372.5 L1720.5 377.5 L1720.5 367.5 Z" fill="#111"/>
<path d="M1904.5 372.5 L1893.5 377.5 L1893.5 367.5 Z" fill="#111"/>
<text x="1807.86" y="344.33" font-size="25" text-anchor="middle" font-weight="normal" fill="#111">G</text>
<text x="1807.36" y="368.69" font-size="21.5" text-anchor="middle" font-weight="normal" fill="#111">120</text>
<path d="M1908.5 85.5 L1951.5 85.5" stroke="#2b2b2b" stroke-width="1.0" fill="none"/>
<path d="M1913.5 302.5 L1952.5 302.5" stroke="#2b2b2b" stroke-width="1.0" fill="none"/>
<path d="M1935.5 87.5 L1935.5 299.5" stroke="#2a2a2a" stroke-width="1.0" fill="none"/>
<path d="M1935.5 87.5 L1930.5 98.5 L1940.5 98.5 Z" fill="#111"/>
<path d="M1935.5 299.5 L1930.5 288.5 L1940.5 288.5 Z" fill="#111"/>
<text x="1931.92" y="202.11" font-size="22.5" text-anchor="middle" font-weight="normal" fill="#111" transform="rotate(-90 1931.92 202.11)">H</text>
<path d="M1610.5 109.5 L1692.5 109.5 L1713.5 89.5" stroke="#2b2b2b" stroke-width="1.0" fill="none"/>
<text x="1618.4" y="101.91" font-size="26.5" text-anchor="start" font-weight="normal" fill="#111">4xØ6</text>
<path d="M1418.5 570.5 L1262.5 570.5 L1262.5 746.5 L1414.5 746.5 L1414.5 577.5" stroke="#2e2e2e" stroke-width="1.0" fill="none"/>
<path d="M1262.5 570.5 L1232.5 570.5 L1232.5 746.5 L1262.5 746.5" stroke="#2e2e2e" stroke-width="1.0" fill="none"/>
<path d="M1232.5 572.5 L1262.5 572.5" stroke="#2e2e2e" stroke-width="1.0" fill="none"/>
<path d="M1232.5 580.5 L1262.5 580.5" stroke="#2e2e2e" stroke-width="1.0" fill="none"/>
<path d="M1232.5 651.5 L1262.5 651.5" stroke="#2e2e2e" stroke-width="1.0" fill="none"/>
<path d="M1232.5 664.5 L1262.5 664.5" stroke="#2e2e2e" stroke-width="1.0" fill="none"/>
<path d="M1207.5 655.5 L1220.5 655.5 L1220.5 698.5" stroke="#2e2e2e" stroke-width="1.0" fill="none"/>
<rect x="1220.5" y="686.5" width="12.0" height="12.0" stroke="#2e2e2e" stroke-width="1.0" fill="none"/>
<path d="M1220.5 702.5 L1220.5 874.5" stroke="#2e2e2e" stroke-width="1.0" fill="none"/>
<path d="M1261.5 570.5 L1261.5 531.5 L1294.5 531.5 L1294.5 570.5" stroke="#2e2e2e" stroke-width="1.0" fill="none"/>
<path d="M1324.5 570.5 L1324.5 531.5 L1356.5 531.5 L1356.5 570.5" stroke="#2e2e2e" stroke-width="1.0" fill="none"/>
<path d="M1385.5 570.5 L1385.5 531.5 L1418.5 531.5 L1418.5 570.5" stroke="#2e2e2e" stroke-width="1.0" fill="none"/>
<path d="M1290.5 553.5 L1284.5 563.5 L1271.5 563.5 L1265.5 553.5 L1271.5 542.5 L1284.5 542.5 L1290.5 553.5" stroke="#2e2e2e" stroke-width="1.0" fill="none"/>
<path d="M1353.5 553.5 L1346.5 563.5 L1334.5 563.5 L1327.5 553.5 L1334.5 542.5 L1346.5 542.5 L1353.5 553.5" stroke="#2e2e2e" stroke-width="1.0" fill="none"/>
<circle cx="1402.1" cy="551.47" r="11.81" stroke="#2e2e2e" stroke-width="1.0" fill="none"/>
<path d="M1385.5 562.5 L1418.5 543.5" stroke="#2e2e2e" stroke-width="1.0" fill="none"/>
<path d="M1402.5 539.5 L1402.5 563.5" stroke="#2e2e2e" stroke-width="1.0" fill="none"/>
<circle cx="1314.17" cy="594.78" r="11.29" stroke="#2e2e2e" stroke-width="1.0" fill="none"/>
<circle cx="1364.57" cy="723.91" r="11.29" stroke="#2e2e2e" stroke-width="1.0" fill="none"/>
<path d="M1262.5 746.5 L1262.5 784.5 L1295.5 784.5 L1295.5 746.5" stroke="#2e2e2e" stroke-width="1.0" fill="none"/>
<path d="M1318.5 746.5 L1318.5 784.5 L1350.5 784.5 L1350.5 746.5" stroke="#2e2e2e" stroke-width="1.0" fill="none"/>
<path d="M1382.5 746.5 L1382.5 784.5 L1414.5 784.5 L1414.5 746.5" stroke="#2e2e2e" stroke-width="1.0" fill="none"/>
<circle cx="1278.48" cy="762.49" r="11.29" stroke="#2e2e2e" stroke-width="1.0" fill="none"/>
<path d="M1278.5 751.5 L1278.5 796.5" stroke="#2e2e2e" stroke-width="1.0" fill="none"/>
<circle cx="1334.38" cy="762.49" r="11.29" stroke="#2e2e2e" stroke-width="1.0" fill="none"/>
<path d="M1334.5 751.5 L1334.5 796.5" stroke="#2e2e2e" stroke-width="1.0" fill="none"/>
<circle cx="1398.69" cy="762.49" r="11.29" stroke="#2e2e2e" stroke-width="1.0" fill="none"/>
<path d="M1398.5 751.5 L1398.5 796.5" stroke="#2e2e2e" stroke-width="1.0" fill="none"/>
<rect x="1414.5" y="577.5" width="58.0" height="163.0" stroke="#2e2e2e" stroke-width="1.0" fill="none"/>
<path d="M1418.5 563.5 L1458.5 577.5" stroke="#2e2e2e" stroke-width="1.0" fill="none"/>
<path d="M1414.5 763.5 L1463.5 740.5" stroke="#2e2e2e" stroke-width="1.0" fill="none"/>
<path d="M1414.5 593.5 L1472.5 593.5" stroke="#2e2e2e" stroke-width="1.0" fill="none"/>
<path d="M1414.5 612.5 L1472.5 612.5" stroke="#2e2e2e" stroke-width="1.0" fill="none"/>
<path d="M1434.5 593.5 L1434.5 612.5" stroke="#2e2e2e" stroke-width="1.0" fill="none"/>
<path d="M1440.5 593.5 L1440.5 612.5" stroke="#2e2e2e" stroke-width="1.0" fill="none"/>
<path d="M1453.5 593.5 L1453.5 612.5" stroke="#2e2e2e" stroke-width="1.0" fill="none"/>
<path d="M1460.5 593.5 L1460.5 612.5" stroke="#2e2e2e" stroke-width="1.0" fill="none"/>
<path d="M1414.5 622.5 L1472.5 622.5" stroke="#2e2e2e" stroke-width="1.0" fill="none"/>
<path d="M1414.5 642.5 L1472.5 642.5" stroke="#2e2e2e" stroke-width="1.0" fill="none"/>
<path d="M1434.5 622.5 L1434.5 642.5" stroke="#2e2e2e" stroke-width="1.0" fill="none"/>
<path d="M1440.5 622.5 L1440.5 642.5" stroke="#2e2e2e" stroke-width="1.0" fill="none"/>
<path d="M1453.5 622.5 L1453.5 642.5" stroke="#2e2e2e" stroke-width="1.0" fill="none"/>
<path d="M1460.5 622.5 L1460.5 642.5" stroke="#2e2e2e" stroke-width="1.0" fill="none"/>
<path d="M1414.5 685.5 L1472.5 685.5" stroke="#2e2e2e" stroke-width="1.0" fill="none"/>
<path d="M1414.5 704.5 L1472.5 704.5" stroke="#2e2e2e" stroke-width="1.0" fill="none"/>
<path d="M1434.5 685.5 L1434.5 704.5" stroke="#2e2e2e" stroke-width="1.0" fill="none"/>
<path d="M1440.5 685.5 L1440.5 704.5" stroke="#2e2e2e" stroke-width="1.0" fill="none"/>
<path d="M1453.5 685.5 L1453.5 704.5" stroke="#2e2e2e" stroke-width="1.0" fill="none"/>
<path d="M1460.5 685.5 L1460.5 704.5" stroke="#2e2e2e" stroke-width="1.0" fill="none"/>
<path d="M1414.5 712.5 L1472.5 712.5" stroke="#2e2e2e" stroke-width="1.0" fill="none"/>
<path d="M1414.5 731.5 L1472.5 731.5" stroke="#2e2e2e" stroke-width="1.0" fill="none"/>
<path d="M1434.5 712.5 L1434.5 731.5" stroke="#2e2e2e" stroke-width="1.0" fill="none"/>
<path d="M1440.5 712.5 L1440.5 731.5" stroke="#2e2e2e" stroke-width="1.0" fill="none"/>
<path d="M1453.5 712.5 L1453.5 731.5" stroke="#2e2e2e" stroke-width="1.0" fill="none"/>
<path d="M1460.5 712.5 L1460.5 731.5" stroke="#2e2e2e" stroke-width="1.0" fill="none"/>
<rect x="1422.31" y="655.14" width="12.07" height="11.82" stroke="none" stroke-width="0" fill="#111"/>
<rect x="1434.5" y="653.5" width="32.0" height="16.0" stroke="#555" stroke-width="1.3" fill="none"/>
<path d="M1233.5 656.5 L1493.5 656.5" stroke="#2e2e2e" stroke-width="1.0" stroke-dasharray="35 15 16.5 16" fill="none"/>
<path d="M1471.5 743.5 L1471.5 870.5" stroke="#2e2e2e" stroke-width="1.0" fill="none"/>
<path d="M1223.5 863.5 L1467.5 863.5" stroke="#2a2a2a" stroke-width="1.0" fill="none"/>
<path d="M1223.5 863.5 L1234.5 868.5 L1234.5 858.5 Z" fill="#111"/>
<path d="M1467.5 863.5 L1456.5 868.5 L1456.5 858.5 Z" fill="#111"/>
<text x="1343.57" y="854.8" font-size="27" text-anchor="middle" font-weight="normal" fill="#111" word-spacing="-3.5">A max</text>
<path d="M 1606.5 757.5 L 1591.5 757.5 Q 1579.5 757.5 1579.5 745.5 L 1579.5 611.5 L 1740.5 611.5 L 1740.5 745.5 Q 1739.5 757.5 1726.5 758.5 L 1708.5 759.5" stroke="#2e2e2e" stroke-width="1.0" fill="none"/>
<path d="M1579.5 710.5 L1642.5 710.5 L1638.5 700.5 L1681.5 700.5 L1676.5 710.5 L1740.5 710.5" stroke="#2e2e2e" stroke-width="1.0" fill="none"/>
<path d="M1579.5 679.5 L1543.5 679.5 L1543.5 689.5 L1552.5 689.5" stroke="#2e2e2e" stroke-width="1.0" fill="none"/>
<path d="M1573.5 689.5 L1579.5 689.5" stroke="#2e2e2e" stroke-width="1.0" fill="none"/>
<path d="M1579.5 679.5 L1595.5 694.5 L1720.5 694.5 L1732.5 681.5 L1772.5 681.5 L1772.5 694.5 L1764.5 694.5" stroke="#2e2e2e" stroke-width="1.0" fill="none"/>
<path d="M1740.5 694.5 L1745.5 694.5" stroke="#2e2e2e" stroke-width="1.0" fill="none"/>
<rect x="1559.5" y="658.5" width="8.0" height="10.0" stroke="#2e2e2e" stroke-width="1.0" fill="none"/>
<rect x="1751.5" y="660.5" width="8.0" height="10.0" stroke="#2e2e2e" stroke-width="1.0" fill="none"/>
<path d="M 1559.5 668.5 C 1554.5 670.5 1554.5 674.5 1554.5 678.5 C 1554.5 683.5 1551.5 689.5 1553.5 694.5 C 1556.5 700.5 1570.5 700.5 1573.5 693.5 C 1574.5 689.5 1571.5 683.5 1571.5 678.5 C 1572.5 673.5 1570.5 670.5 1567.5 668.5" stroke="#2e2e2e" stroke-width="1.0" fill="none"/>
<path d="M 1751.5 670.5 C 1747.5 672.5 1746.5 676.5 1746.5 681.5 C 1746.5 686.5 1743.5 691.5 1745.5 696.5 C 1748.5 703.5 1762.5 703.5 1764.5 696.5 C 1766.5 691.5 1763.5 686.5 1763.5 681.5 C 1763.5 675.5 1762.5 672.5 1759.5 670.5" stroke="#2e2e2e" stroke-width="1.0" fill="none"/>
<circle cx="1585.92" cy="721.32" r="3.54" stroke="none" stroke-width="0" fill="#111"/>
<circle cx="1728.74" cy="721.32" r="3.54" stroke="none" stroke-width="0" fill="#111"/>
<circle cx="1593.8" cy="737.6" r="5.7" stroke="#111" stroke-width="5.6" fill="none"/>
<circle cx="1722.18" cy="737.6" r="5.7" stroke="#111" stroke-width="5.6" fill="none"/>
<ellipse cx="1631.08" cy="736.28" rx="12.08" ry="8.4" stroke="#2e2e2e" stroke-width="1.0" fill="none" transform="rotate(25 1631.08 736.28)"/>
<path d="M1606.5 757.5 L1606.5 835.5" stroke="#2e2e2e" stroke-width="1.0" fill="none"/>
<path d="M1606.5 757.5 L1614.5 764.5" stroke="#2e2e2e" stroke-width="1.0" fill="none"/>
<path d="M1704.5 764.5 L1708.5 759.5" stroke="#2e2e2e" stroke-width="1.0" fill="none"/>
<path d="M1708.5 759.5 L1708.5 835.5" stroke="#2e2e2e" stroke-width="1.0" fill="none"/>
<path d="M1614.5 807.5 L1614.5 763.5 L1704.5 763.5 L1704.5 809.5 L1685.5 809.5 L1685.5 818.5 L1700.5 818.5 L1700.5 835.5" stroke="#2e2e2e" stroke-width="1.0" fill="none"/>
<path d="M 1614.5 807.5 L 1631.5 807.5 L 1631.5 818.5 L 1618.5 818.5 L 1617.5 833.5 Q 1616.5 841.5 1611.5 842.5" stroke="#2e2e2e" stroke-width="1.0" fill="none"/>
<path d="M1606.5 835.5 L1565.5 835.5 L1565.5 847.5" stroke="#2e2e2e" stroke-width="1.0" fill="none"/>
<path d="M1619.5 835.5 L1754.5 835.5 L1754.5 842.5 L1565.5 842.5" stroke="#2e2e2e" stroke-width="1.0" fill="none"/>
<rect x="1574.5" y="819.5" width="16.0" height="16.0" stroke="#2e2e2e" stroke-width="1.0" fill="none"/>
<rect x="1590.5" y="819.5" width="15.0" height="16.0" stroke="#2e2e2e" stroke-width="1.0" fill="none"/>
<path d="M1660.5 599.5 L1660.5 850.5" stroke="#2e2e2e" stroke-width="1.0" stroke-dasharray="28 15.5 13.5 15.5" fill="none"/>
<path d="M1543.5 535.5 L1543.5 675.5" stroke="#2e2e2e" stroke-width="1.0" fill="none"/>
<path d="M1772.5 538.5 L1772.5 681.5" stroke="#2e2e2e" stroke-width="1.0" fill="none"/>
<path d="M1548.5 553.5 L1766.5 553.5" stroke="#2a2a2a" stroke-width="1.0" fill="none"/>
<path d="M1548.5 553.5 L1559.5 558.5 L1559.5 548.5 Z" fill="#111"/>
<path d="M1766.5 553.5 L1755.5 558.5 L1755.5 548.5 Z" fill="#111"/>
<text x="1657.59" y="541.9" font-size="27" text-anchor="middle" font-weight="normal" fill="#111" word-spacing="-1.5">B max</text>
<path d="M1742.5 611.5 L1834.5 611.5" stroke="#2e2e2e" stroke-width="1.0" fill="none"/>
<path d="M1757.5 842.5 L1834.5 842.5" stroke="#2e2e2e" stroke-width="1.0" fill="none"/>
<path d="M1824.5 614.5 L1824.5 838.5" stroke="#2a2a2a" stroke-width="1.0" fill="none"/>
<path d="M1824.5 614.5 L1819.5 625.5 L1829.5 625.5 Z" fill="#111"/>
<path d="M1824.5 838.5 L1819.5 827.5 L1829.5 827.5 Z" fill="#111"/>
<text x="1815.38" y="725.78" font-size="27" text-anchor="middle" font-weight="normal" fill="#111" word-spacing="-1.5" transform="rotate(-90 1815.38 725.78)">C max</text>
<path d="M 1880.5 579.5 L 1974.5 579.5 L 1974.5 606.5 C 1974.5 621.5 1994.5 621.5 1994.5 606.5 L 1994.5 579.5 L 2084.5 579.5 L 2084.5 821.5 L 1993.5 821.5 L 1993.5 801.5 C 1993.5 787.5 1972.5 787.5 1972.5 801.5 L 1972.5 821.5 L 1880.5 821.5 Z" stroke="#2e2e2e" stroke-width="1.0" fill="none"/>
<ellipse cx="1899.21" cy="597.87" rx="7.75" ry="9.8" stroke="#2e2e2e" stroke-width="1.0" fill="none"/>
<ellipse cx="2065.84" cy="597.87" rx="7.75" ry="9.8" stroke="#2e2e2e" stroke-width="1.0" fill="none"/>
<ellipse cx="1898.07" cy="801.88" rx="7.52" ry="9.57" stroke="#2e2e2e" stroke-width="1.0" fill="none"/>
<ellipse cx="2065.15" cy="801.88" rx="7.52" ry="9.57" stroke="#2e2e2e" stroke-width="1.0" fill="none"/>
<path d="M1984.5 565.5 L1984.5 818.5" stroke="#2e2e2e" stroke-width="1.0" stroke-dasharray="28 15.5 13.5 15.5" fill="none"/>
<path d="M1869.5 701.5 L2086.5 701.5" stroke="#2e2e2e" stroke-width="1.0" stroke-dasharray="13 15.5 27.7 15.5" fill="none"/>
<path d="M2053.5 598.5 L2136.5 598.5" stroke="#2e2e2e" stroke-width="1.0" fill="none"/>
<path d="M2052.5 802.5 L2134.5 802.5" stroke="#2e2e2e" stroke-width="1.0" fill="none"/>
<path d="M2126.5 600.5 L2126.5 799.5" stroke="#2a2a2a" stroke-width="1.0" fill="none"/>
<path d="M2126.5 600.5 L2121.5 611.5 L2131.5 611.5 Z" fill="#111"/>
<path d="M2126.5 799.5 L2121.5 788.5 L2131.5 788.5 Z" fill="#111"/>
<text x="2117.81" y="705.0" font-size="27" text-anchor="middle" font-weight="normal" fill="#111" transform="rotate(-90 2117.81 705.0)">H</text>
<path d="M1898.5 788.5 L1898.5 861.5" stroke="#2e2e2e" stroke-width="1.0" fill="none"/>
<path d="M2065.5 788.5 L2065.5 861.5" stroke="#2e2e2e" stroke-width="1.0" fill="none"/>
<path d="M1900.5 850.5 L2061.5 850.5" stroke="#2a2a2a" stroke-width="1.0" fill="none"/>
<path d="M1900.5 850.5 L1911.5 855.5 L1911.5 845.5 Z" fill="#111"/>
<path d="M2061.5 850.5 L2050.5 855.5 L2050.5 845.5 Z" fill="#111"/>
<text x="1984.46" y="844.73" font-size="27" text-anchor="middle" font-weight="normal" fill="#111">G</text>
<text x="1584" y="446.6" font-size="24.5"><tspan font-weight="bold" font-size="24">图</tspan>4</text>
<text x="1642.2" y="446.6" font-size="24.6" text-anchor="start" font-weight="normal" fill="#111" textLength="164.2" lengthAdjust="spacing">CJX2-115~170</text>
<text x="1583.4" y="915.7" font-size="24.5"><tspan font-weight="bold" font-size="24">图</tspan>5</text>
<text x="1641.3" y="915.7" font-size="24.6" text-anchor="start" font-weight="normal" fill="#111" textLength="165.7" lengthAdjust="spacing">CJX2-205~620</text>
<rect x="1166.7" y="965.8" width="1018" height="56.7" fill="#e3ebeb"/>
<path d="M1166.7 965.8 H2184.7" stroke="#c4c8c8" stroke-width="1.2"/>
<path d="M1166.7 1022.5 H2184.7" stroke="#a9a9a9" stroke-width="1.3"/>
<path d="M1166.7 1079.5 H2184.7" stroke="#a9a9a9" stroke-width="1.3"/>
<path d="M1166.7 1136.4 H2184.7" stroke="#a9a9a9" stroke-width="1.3"/>
<path d="M1166.7 1193.6 H2184.7" stroke="#a9a9a9" stroke-width="1.3"/>
<path d="M1166.7 1250.5 H2184.7" stroke="#a9a9a9" stroke-width="1.3"/>
<path d="M1166.7 1307.3 H2184.7" stroke="#a9a9a9" stroke-width="1.3"/>
<path d="M1166.7 1364.2 H2184.7" stroke="#a9a9a9" stroke-width="1.3"/>
<path d="M1166.7 1421.2 H2184.7" stroke="#a9a9a9" stroke-width="1.3"/>
<text x="1191.0" y="1004.5" font-size="28" text-anchor="start" font-weight="bold" fill="#111">型号</text>
<text x="1522.7" y="1004.0" font-size="28.6" text-anchor="middle" font-weight="normal" fill="#111">Amax</text>
<text x="1679.0" y="1004.0" font-size="28.6" text-anchor="middle" font-weight="normal" fill="#111">Bmax</text>
<text x="1841.2" y="1004.0" font-size="28.6" text-anchor="middle" font-weight="normal" fill="#111">Cmax</text>
<text x="1985.0" y="1004.0" font-size="28.6" text-anchor="middle" font-weight="normal" fill="#111">G</text>
<text x="2119.0" y="1004.0" font-size="28.6" text-anchor="middle" font-weight="normal" fill="#111">H</text>
<text x="1191.0" y="1061.5" font-size="28.6" text-anchor="start" font-weight="normal" fill="#111" textLength="239.3" lengthAdjust="spacing">CJX2-115/152/170</text>
<text x="1522.7" y="1061.5" font-size="28.6" text-anchor="middle" font-weight="normal" fill="#111">158</text>
<text x="1679.0" y="1061.5" font-size="28.6" text-anchor="middle" font-weight="normal" fill="#111">120</text>
<text x="1841.2" y="1061.5" font-size="28.6" text-anchor="middle" font-weight="normal" fill="#111">132</text>
<text x="1985.0" y="1061.5" font-size="28.6" text-anchor="middle" font-weight="normal" fill="#111">90/110</text>
<text x="2119.0" y="1061.5" font-size="28.6" text-anchor="middle" font-weight="normal" fill="#111">130</text>
<text x="1191.0" y="1119.0" font-size="28.6" text-anchor="start" font-weight="normal" fill="#111" textLength="185" lengthAdjust="spacing">CJX2-185/205</text>
<text x="1522.7" y="1119.0" font-size="28.6" text-anchor="middle" font-weight="normal" fill="#111">170</text>
<text x="1679.0" y="1119.0" font-size="28.6" text-anchor="middle" font-weight="normal" fill="#111">174</text>
<text x="1841.2" y="1119.0" font-size="28.6" text-anchor="middle" font-weight="normal" fill="#111">185</text>
<text x="1985.0" y="1119.0" font-size="28.6" text-anchor="middle" font-weight="normal" fill="#111">80</text>
<text x="2119.0" y="1119.0" font-size="28.6" text-anchor="middle" font-weight="normal" fill="#111">110/120</text>
<text x="1191.0" y="1175.9" font-size="28.6" text-anchor="start" font-weight="normal" fill="#111" textLength="185" lengthAdjust="spacing">CJX2-225/245</text>
<text x="1522.7" y="1175.9" font-size="28.6" text-anchor="middle" font-weight="normal" fill="#111">170</text>
<text x="1679.0" y="1175.9" font-size="28.6" text-anchor="middle" font-weight="normal" fill="#111">198</text>
<text x="1841.2" y="1175.9" font-size="28.6" text-anchor="middle" font-weight="normal" fill="#111">185</text>
<text x="1985.0" y="1175.9" font-size="28.6" text-anchor="middle" font-weight="normal" fill="#111">80</text>
<text x="2119.0" y="1175.9" font-size="28.6" text-anchor="middle" font-weight="normal" fill="#111">110/120</text>
<text x="1191.0" y="1233.3" font-size="28.6" text-anchor="start" font-weight="normal" fill="#111" textLength="185" lengthAdjust="spacing">CJX2-300/330</text>
<text x="1522.7" y="1233.3" font-size="28.6" text-anchor="middle" font-weight="normal" fill="#111">213</text>
<text x="1679.0" y="1233.3" font-size="28.6" text-anchor="middle" font-weight="normal" fill="#111">206</text>
<text x="1841.2" y="1233.3" font-size="28.6" text-anchor="middle" font-weight="normal" fill="#111">219</text>
<text x="1985.0" y="1233.3" font-size="28.6" text-anchor="middle" font-weight="normal" fill="#111">96</text>
<text x="2119.0" y="1233.3" font-size="28.6" text-anchor="middle" font-weight="normal" fill="#111">110/120</text>
<text x="1191.0" y="1290.7" font-size="28.6" text-anchor="start" font-weight="normal" fill="#111" textLength="128" lengthAdjust="spacing">CJX2-410</text>
<text x="1522.7" y="1290.7" font-size="28.6" text-anchor="middle" font-weight="normal" fill="#111">213</text>
<text x="1679.0" y="1290.7" font-size="28.6" text-anchor="middle" font-weight="normal" fill="#111">206</text>
<text x="1841.2" y="1290.7" font-size="28.6" text-anchor="middle" font-weight="normal" fill="#111">219</text>
<text x="1985.0" y="1290.7" font-size="28.6" text-anchor="middle" font-weight="normal" fill="#111">80</text>
<text x="2119.0" y="1290.7" font-size="28.6" text-anchor="middle" font-weight="normal" fill="#111">170/180</text>
<text x="1191.0" y="1348.2" font-size="28.6" text-anchor="start" font-weight="normal" fill="#111" textLength="128" lengthAdjust="spacing">CJX2-475</text>
<text x="1522.7" y="1348.2" font-size="28.6" text-anchor="middle" font-weight="normal" fill="#111">233</text>
<text x="1679.0" y="1348.2" font-size="28.6" text-anchor="middle" font-weight="normal" fill="#111">238</text>
<text x="1841.2" y="1348.2" font-size="28.6" text-anchor="middle" font-weight="normal" fill="#111">232</text>
<text x="1985.0" y="1348.2" font-size="28.6" text-anchor="middle" font-weight="normal" fill="#111">80</text>
<text x="2119.0" y="1348.2" font-size="28.6" text-anchor="middle" font-weight="normal" fill="#111">170/180</text>
<text x="1191.0" y="1405.6" font-size="28.6" text-anchor="start" font-weight="normal" fill="#111" textLength="185" lengthAdjust="spacing">CJX2-620/630</text>
<text x="1522.7" y="1405.6" font-size="28.6" text-anchor="middle" font-weight="normal" fill="#111">309</text>
<text x="1679.0" y="1405.6" font-size="28.6" text-anchor="middle" font-weight="normal" fill="#111">304</text>
<text x="1841.2" y="1405.6" font-size="28.6" text-anchor="middle" font-weight="normal" fill="#111">255</text>
<text x="1985.0" y="1405.6" font-size="28.6" text-anchor="middle" font-weight="normal" fill="#111">181</text>
<text x="2119.0" y="1405.6" font-size="28.6" text-anchor="middle" font-weight="normal" fill="#111">180/190</text>
</svg>
</body></html>
